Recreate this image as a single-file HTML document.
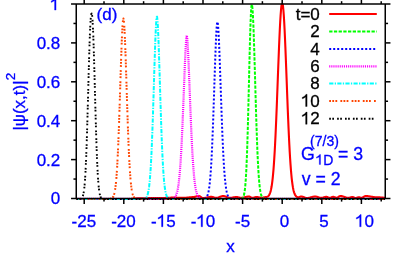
<!DOCTYPE html>
<html><head><meta charset="utf-8"><title>plot</title>
<style>html,body{margin:0;padding:0;background:#fff;overflow:hidden}svg{display:block}</style>
</head><body>
<svg width="399" height="256" viewBox="0 0 399 256" style="will-change:transform">
<rect width="399" height="256" fill="#fff"/>
<clipPath id="c"><rect x="76.25" y="3.50" width="309.00" height="196.95"/></clipPath><g clip-path="url(#c)">
<path d="M76.28 198.95 L76.68 198.95 L77.07 198.95 L77.47 198.95 L77.86 198.95 L78.26 198.95 L78.66 198.95 L79.05 198.95 L79.45 198.95 L79.84 198.95 L80.24 198.95 L80.64 198.95 L81.03 198.95 L81.43 198.95 L81.82 198.95 L82.22 198.95 L82.62 198.95 L83.01 198.95 L83.41 198.95 L83.80 198.95 L84.20 198.95 L84.60 198.95 L84.99 198.95 L85.39 198.95 L85.78 198.95 L86.18 198.95 L86.58 198.95 L86.97 198.95 L87.37 198.95 L87.76 198.95 L88.16 198.95 L88.56 198.95 L88.95 198.95 L89.35 198.95 L89.74 198.95 L90.14 198.95 L90.54 198.95 L90.93 198.95 L91.33 198.95 L91.72 198.95 L92.12 198.95 L92.52 198.95 L92.91 198.95 L93.31 198.95 L93.70 198.95 L94.10 198.95 L94.50 198.95 L94.89 198.95 L95.29 198.95 L95.68 198.95 L96.08 198.95 L96.48 198.95 L96.87 198.95 L97.27 198.95 L97.66 198.95 L98.06 198.95 L98.46 198.95 L98.85 198.95 L99.25 198.95 L99.64 198.95 L100.04 198.95 L100.44 198.95 L100.83 198.95 L101.23 198.95 L101.62 198.95 L102.02 198.95 L102.42 198.95 L102.81 198.95 L103.21 198.95 L103.60 198.95 L104.00 198.95 L104.40 198.95 L104.79 198.95 L105.19 198.95 L105.58 198.95 L105.98 198.95 L106.38 198.95 L106.77 198.95 L107.17 198.95 L107.56 198.95 L107.96 198.95 L108.36 198.95 L108.75 198.95 L109.15 198.95 L109.54 198.95 L109.94 198.95 L110.34 198.95 L110.73 198.95 L111.13 198.95 L111.52 198.95 L111.92 198.95 L112.32 198.95 L112.71 198.95 L113.11 198.95 L113.50 198.95 L113.90 198.95 L114.30 198.95 L114.69 198.95 L115.09 198.95 L115.48 198.95 L115.88 198.95 L116.28 198.95 L116.67 198.95 L117.07 198.95 L117.46 198.95 L117.86 198.95 L118.26 198.95 L118.65 198.95 L119.05 198.95 L119.44 198.95 L119.84 198.95 L120.24 198.95 L120.63 198.95 L121.03 198.95 L121.42 198.95 L121.82 198.95 L122.22 198.95 L122.61 198.95 L123.01 198.95 L123.40 198.95 L123.80 198.95 L124.20 198.95 L124.59 198.95 L124.99 198.95 L125.38 198.95 L125.78 198.95 L126.18 198.95 L126.57 198.95 L126.97 198.95 L127.36 198.95 L127.76 198.95 L128.16 198.95 L128.55 198.95 L128.95 198.95 L129.34 198.95 L129.74 198.95 L130.14 198.95 L130.53 198.94 L130.93 198.93 L131.32 198.91 L131.72 198.89 L132.12 198.86 L132.51 198.83 L132.91 198.79 L133.30 198.75 L133.70 198.71 L134.10 198.67 L134.49 198.62 L134.89 198.58 L135.28 198.54 L135.68 198.50 L136.08 198.46 L136.47 198.43 L136.87 198.40 L137.26 198.38 L137.66 198.36 L138.06 198.35 L138.45 198.35 L138.85 198.35 L139.24 198.35 L139.64 198.35 L140.04 198.34 L140.43 198.34 L140.83 198.33 L141.22 198.33 L141.62 198.32 L142.02 198.31 L142.41 198.31 L142.81 198.30 L143.20 198.29 L143.60 198.28 L144.00 198.27 L144.39 198.26 L144.79 198.25 L145.18 198.24 L145.58 198.23 L145.98 198.22 L146.37 198.21 L146.77 198.20 L147.16 198.19 L147.56 198.19 L147.96 198.18 L148.35 198.17 L148.75 198.17 L149.14 198.16 L149.54 198.16 L149.94 198.15 L150.33 198.15 L150.73 198.15 L151.12 198.15 L151.52 198.15 L151.92 198.15 L152.31 198.14 L152.71 198.14 L153.10 198.14 L153.50 198.13 L153.90 198.13 L154.29 198.12 L154.69 198.11 L155.08 198.10 L155.48 198.09 L155.88 198.08 L156.27 198.08 L156.67 198.07 L157.06 198.06 L157.46 198.05 L157.86 198.04 L158.25 198.03 L158.65 198.02 L159.04 198.01 L159.44 198.00 L159.84 197.99 L160.23 197.98 L160.63 197.98 L161.02 197.97 L161.42 197.96 L161.82 197.96 L162.21 197.96 L162.61 197.95 L163.00 197.95 L163.40 197.95 L163.80 197.95 L164.19 197.95 L164.59 197.94 L164.98 197.93 L165.38 197.92 L165.78 197.91 L166.17 197.89 L166.57 197.87 L166.96 197.86 L167.36 197.84 L167.76 197.82 L168.15 197.79 L168.55 197.77 L168.94 197.75 L169.34 197.73 L169.74 197.72 L170.13 197.70 L170.53 197.68 L170.92 197.67 L171.32 197.66 L171.72 197.66 L172.11 197.65 L172.51 197.65 L172.90 197.65 L173.30 197.65 L173.70 197.65 L174.09 197.65 L174.49 197.66 L174.88 197.66 L175.28 197.66 L175.68 197.67 L176.07 197.67 L176.47 197.67 L176.86 197.68 L177.26 197.68 L177.66 197.69 L178.05 197.69 L178.45 197.70 L178.84 197.70 L179.24 197.71 L179.64 197.71 L180.03 197.72 L180.43 197.72 L180.82 197.72 L181.22 197.73 L181.62 197.73 L182.01 197.74 L182.41 197.74 L182.80 197.74 L183.20 197.74 L183.60 197.75 L183.99 197.75 L184.39 197.75 L184.78 197.75 L185.18 197.75 L185.58 197.74 L185.97 197.73 L186.37 197.70 L186.76 197.67 L187.16 197.64 L187.56 197.60 L187.95 197.55 L188.35 197.51 L188.74 197.46 L189.14 197.41 L189.54 197.36 L189.93 197.31 L190.33 197.27 L190.72 197.24 L191.12 197.20 L191.52 197.18 L191.91 197.16 L192.31 197.15 L192.70 197.15 L193.10 197.13 L193.50 197.09 L193.89 197.04 L194.29 196.96 L194.68 196.87 L195.08 196.77 L195.48 196.66 L195.87 196.55 L196.27 196.44 L196.66 196.34 L197.06 196.25 L197.46 196.17 L197.85 196.11 L198.25 196.07 L198.64 196.05 L199.04 196.06 L199.44 196.15 L199.83 196.31 L200.23 196.53 L200.62 196.78 L201.02 197.06 L201.42 197.34 L201.81 197.60 L202.21 197.81 L202.60 197.96 L203.00 198.04 L203.40 198.05 L203.79 198.03 L204.19 198.01 L204.58 197.97 L204.98 197.91 L205.38 197.85 L205.77 197.78 L206.17 197.69 L206.56 197.61 L206.96 197.52 L207.36 197.43 L207.75 197.33 L208.15 197.25 L208.54 197.16 L208.94 197.08 L209.34 197.02 L209.73 196.96 L210.13 196.91 L210.52 196.88 L210.92 196.86 L211.32 196.85 L211.71 196.87 L212.11 196.91 L212.50 196.99 L212.90 197.08 L213.30 197.19 L213.69 197.32 L214.09 197.44 L214.48 197.56 L214.88 197.66 L215.28 197.75 L215.67 197.81 L216.07 197.84 L216.46 197.85 L216.86 197.82 L217.26 197.77 L217.65 197.68 L218.05 197.58 L218.44 197.45 L218.84 197.31 L219.24 197.16 L219.63 197.00 L220.03 196.84 L220.42 196.68 L220.82 196.53 L221.22 196.39 L221.61 196.28 L222.01 196.18 L222.40 196.11 L222.80 196.06 L223.20 196.05 L223.59 196.06 L223.99 196.11 L224.38 196.18 L224.78 196.28 L225.18 196.40 L225.57 196.54 L225.97 196.69 L226.36 196.85 L226.76 197.02 L227.16 197.18 L227.55 197.33 L227.95 197.47 L228.34 197.60 L228.74 197.70 L229.14 197.78 L229.53 197.83 L229.93 197.85 L230.32 197.84 L230.72 197.82 L231.12 197.79 L231.51 197.74 L231.91 197.68 L232.30 197.61 L232.70 197.54 L233.10 197.46 L233.49 197.38 L233.89 197.31 L234.28 197.24 L234.68 197.17 L235.08 197.12 L235.47 197.08 L235.87 197.06 L236.26 197.05 L236.66 197.06 L237.06 197.09 L237.45 197.15 L237.85 197.22 L238.24 197.30 L238.64 197.40 L239.04 197.50 L239.43 197.59 L239.83 197.68 L240.22 197.75 L240.62 197.80 L241.02 197.84 L241.41 197.85 L241.81 197.84 L242.20 197.81 L242.60 197.77 L243.00 197.71 L243.39 197.63 L243.79 197.54 L244.18 197.45 L244.58 197.34 L244.98 197.23 L245.37 197.13 L245.77 197.02 L246.16 196.92 L246.56 196.82 L246.96 196.74 L247.35 196.67 L247.75 196.61 L248.14 196.58 L248.54 196.55 L248.94 196.55 L249.33 196.62 L249.73 196.74 L250.12 196.92 L250.52 197.13 L250.92 197.35 L251.31 197.55 L251.71 197.71 L252.10 197.81 L252.50 197.85 L252.90 197.83 L253.29 197.77 L253.69 197.67 L254.08 197.55 L254.48 197.42 L254.88 197.30 L255.27 197.19 L255.67 197.10 L256.06 197.06 L256.46 197.05 L256.86 197.07 L257.25 197.10 L257.65 197.16 L258.04 197.22 L258.44 197.30 L258.84 197.38 L259.23 197.47 L259.63 197.55 L260.02 197.63 L260.42 197.71 L260.82 197.77 L261.21 197.81 L261.61 197.84 L262.00 197.84 L262.40 197.82 L262.80 197.74 L263.19 197.63 L263.59 197.49 L263.98 197.36 L264.38 197.25 L264.78 197.17 L265.17 197.13 L265.57 197.10 L265.96 197.05 L266.36 196.99 L266.76 196.91 L267.15 196.79 L267.55 196.62 L267.94 196.39 L268.34 196.07 L268.74 195.63 L269.13 195.07 L269.53 194.33 L269.92 193.41 L270.32 192.26 L270.72 190.85 L271.11 189.14 L271.51 187.06 L271.90 184.58 L272.30 181.64 L272.70 178.20 L273.09 174.19 L273.49 169.57 L273.88 164.31 L274.28 158.38 L274.68 151.76 L275.07 144.44 L275.47 136.45 L275.86 127.81 L276.26 118.59 L276.66 108.86 L277.05 98.73 L277.45 88.32 L277.84 77.78 L278.24 67.27 L278.64 56.97 L279.03 47.06 L279.43 37.74 L279.82 29.20 L280.22 21.62 L280.62 15.16 L281.01 9.97 L281.41 6.18 L281.80 3.87 L282.20 3.09 L282.60 3.87 L282.99 6.19 L283.39 9.99 L283.78 15.18 L284.18 21.64 L284.58 29.23 L284.97 37.77 L285.37 47.10 L285.76 57.01 L286.16 67.31 L286.56 77.83 L286.95 88.37 L287.35 98.79 L287.74 108.92 L288.14 118.65 L288.54 127.87 L288.93 136.51 L289.33 144.51 L289.72 151.83 L290.12 158.46 L290.52 164.39 L290.91 169.65 L291.31 174.27 L291.70 178.28 L292.10 181.73 L292.50 184.67 L292.89 187.16 L293.29 189.23 L293.68 190.95 L294.08 192.36 L294.48 193.51 L294.87 194.43 L295.27 195.17 L295.66 195.75 L296.06 196.21 L296.46 196.57 L296.85 196.84 L297.25 197.05 L297.64 197.21 L298.04 197.28 L298.44 197.26 L298.83 197.18 L299.23 197.06 L299.62 196.92 L300.02 196.77 L300.42 196.65 L300.81 196.57 L301.21 196.53 L301.60 196.55 L302.00 196.60 L302.40 196.68 L302.79 196.79 L303.19 196.93 L303.58 197.08 L303.98 197.25 L304.38 197.41 L304.77 197.58 L305.17 197.72 L305.56 197.85 L305.96 197.95 L306.36 198.02 L306.75 198.05 L307.15 198.05 L307.54 198.03 L307.94 197.99 L308.34 197.94 L308.73 197.87 L309.13 197.79 L309.52 197.70 L309.92 197.60 L310.32 197.49 L310.71 197.38 L311.11 197.27 L311.50 197.16 L311.90 197.05 L312.30 196.94 L312.69 196.85 L313.09 196.76 L313.48 196.69 L313.88 196.63 L314.28 196.59 L314.67 196.56 L315.07 196.55 L315.46 196.56 L315.86 196.60 L316.26 196.66 L316.65 196.74 L317.05 196.84 L317.44 196.96 L317.84 197.08 L318.24 197.21 L318.63 197.34 L319.03 197.46 L319.42 197.58 L319.82 197.68 L320.22 197.75 L320.61 197.81 L321.01 197.84 L321.40 197.85 L321.80 197.83 L322.20 197.78 L322.59 197.70 L322.99 197.60 L323.38 197.49 L323.78 197.37 L324.18 197.25 L324.57 197.13 L324.97 197.03 L325.36 196.95 L325.76 196.89 L326.16 196.86 L326.55 196.86 L326.95 196.93 L327.34 197.06 L327.74 197.24 L328.14 197.44 L328.53 197.63 L328.93 197.77 L329.32 197.84 L329.72 197.84 L330.12 197.78 L330.51 197.68 L330.91 197.53 L331.30 197.37 L331.70 197.20 L332.10 197.05 L332.49 196.94 L332.89 196.87 L333.28 196.85 L333.68 196.90 L334.08 197.00 L334.47 197.14 L334.87 197.31 L335.26 197.47 L335.66 197.61 L336.06 197.71 L336.45 197.75 L336.85 197.72 L337.24 197.62 L337.64 197.45 L338.04 197.23 L338.43 196.98 L338.83 196.72 L339.22 196.48 L339.62 196.28 L340.02 196.13 L340.41 196.06 L340.81 196.05 L341.20 196.08 L341.60 196.13 L342.00 196.20 L342.39 196.29 L342.79 196.39 L343.18 196.52 L343.58 196.65 L343.98 196.79 L344.37 196.94 L344.77 197.09 L345.16 197.23 L345.56 197.37 L345.96 197.49 L346.35 197.60 L346.75 197.69 L347.14 197.77 L347.54 197.82 L347.94 197.84 L348.33 197.85 L348.73 197.82 L349.12 197.76 L349.52 197.68 L349.92 197.57 L350.31 197.46 L350.71 197.35 L351.10 197.24 L351.50 197.15 L351.90 197.09 L352.29 197.05 L352.69 197.06 L353.08 197.13 L353.48 197.26 L353.88 197.44 L354.27 197.63 L354.67 197.81 L355.06 197.96 L355.46 198.04 L355.86 198.05 L356.25 197.99 L356.65 197.88 L357.04 197.73 L357.44 197.57 L357.84 197.43 L358.23 197.31 L358.63 197.26 L359.02 197.26 L359.42 197.34 L359.82 197.46 L360.21 197.61 L360.61 197.74 L361.00 197.83 L361.40 197.85 L361.80 197.79 L362.19 197.67 L362.59 197.50 L362.98 197.27 L363.38 197.03 L363.78 196.77 L364.17 196.53 L364.57 196.33 L364.96 196.17 L365.36 196.08 L365.76 196.05 L366.15 196.06 L366.55 196.07 L366.94 196.09 L367.34 196.12 L367.74 196.15 L368.13 196.20 L368.53 196.25 L368.92 196.30 L369.32 196.36 L369.72 196.42 L370.11 196.49 L370.51 196.55 L370.90 196.62 L371.30 196.69 L371.70 196.76 L372.09 196.83 L372.49 196.90 L372.88 196.96 L373.28 197.02 L373.68 197.07 L374.07 197.12 L374.47 197.16 L374.86 197.19 L375.26 197.22 L375.66 197.24 L376.05 197.25 L376.45 197.25 L376.84 197.25 L377.24 197.26 L377.64 197.27 L378.03 197.28 L378.43 197.30 L378.82 197.32 L379.22 197.35 L379.62 197.38 L380.01 197.41 L380.41 197.44 L380.80 197.47 L381.20 197.50 L381.60 197.53 L381.99 197.56 L382.39 197.59 L382.78 197.62 L383.18 197.65 L383.58 197.68 L383.97 197.70 L384.37 197.72 L384.76 197.73 L385.16 197.74" fill="none" stroke="#ff0000" stroke-width="2.1" stroke-linejoin="round"/>
<path d="M76.28 198.95 L76.68 198.95 L77.07 198.95 L77.47 198.95 L77.86 198.95 L78.26 198.95 L78.66 198.95 L79.05 198.95 L79.45 198.95 L79.84 198.95 L80.24 198.95 L80.64 198.95 L81.03 198.95 L81.43 198.95 L81.82 198.95 L82.22 198.95 L82.62 198.95 L83.01 198.95 L83.41 198.95 L83.80 198.95 L84.20 198.95 L84.60 198.95 L84.99 198.95 L85.39 198.95 L85.78 198.95 L86.18 198.95 L86.58 198.95 L86.97 198.95 L87.37 198.95 L87.76 198.95 L88.16 198.95 L88.56 198.95 L88.95 198.95 L89.35 198.95 L89.74 198.95 L90.14 198.95 L90.54 198.95 L90.93 198.95 L91.33 198.95 L91.72 198.95 L92.12 198.95 L92.52 198.95 L92.91 198.95 L93.31 198.95 L93.70 198.95 L94.10 198.95 L94.50 198.95 L94.89 198.95 L95.29 198.95 L95.68 198.95 L96.08 198.95 L96.48 198.95 L96.87 198.95 L97.27 198.95 L97.66 198.95 L98.06 198.95 L98.46 198.95 L98.85 198.95 L99.25 198.95 L99.64 198.95 L100.04 198.95 L100.44 198.95 L100.83 198.95 L101.23 198.95 L101.62 198.95 L102.02 198.95 L102.42 198.95 L102.81 198.95 L103.21 198.95 L103.60 198.95 L104.00 198.95 L104.40 198.95 L104.79 198.95 L105.19 198.95 L105.58 198.95 L105.98 198.95 L106.38 198.95 L106.77 198.95 L107.17 198.95 L107.56 198.95 L107.96 198.95 L108.36 198.95 L108.75 198.95 L109.15 198.95 L109.54 198.95 L109.94 198.95 L110.34 198.95 L110.73 198.95 L111.13 198.95 L111.52 198.95 L111.92 198.95 L112.32 198.95 L112.71 198.95 L113.11 198.95 L113.50 198.95 L113.90 198.95 L114.30 198.95 L114.69 198.95 L115.09 198.95 L115.48 198.95 L115.88 198.95 L116.28 198.95 L116.67 198.95 L117.07 198.95 L117.46 198.95 L117.86 198.95 L118.26 198.95 L118.65 198.95 L119.05 198.95 L119.44 198.95 L119.84 198.95 L120.24 198.95 L120.63 198.95 L121.03 198.95 L121.42 198.95 L121.82 198.95 L122.22 198.95 L122.61 198.95 L123.01 198.95 L123.40 198.95 L123.80 198.95 L124.20 198.95 L124.59 198.95 L124.99 198.95 L125.38 198.95 L125.78 198.95 L126.18 198.95 L126.57 198.95 L126.97 198.95 L127.36 198.95 L127.76 198.95 L128.16 198.95 L128.55 198.95 L128.95 198.95 L129.34 198.95 L129.74 198.95 L130.14 198.95 L130.53 198.95 L130.93 198.95 L131.32 198.95 L131.72 198.95 L132.12 198.95 L132.51 198.95 L132.91 198.95 L133.30 198.95 L133.70 198.95 L134.10 198.95 L134.49 198.95 L134.89 198.95 L135.28 198.95 L135.68 198.95 L136.08 198.95 L136.47 198.95 L136.87 198.95 L137.26 198.95 L137.66 198.95 L138.06 198.95 L138.45 198.95 L138.85 198.95 L139.24 198.95 L139.64 198.95 L140.04 198.95 L140.43 198.95 L140.83 198.95 L141.22 198.95 L141.62 198.95 L142.02 198.95 L142.41 198.95 L142.81 198.95 L143.20 198.95 L143.60 198.95 L144.00 198.95 L144.39 198.95 L144.79 198.95 L145.18 198.95 L145.58 198.95 L145.98 198.95 L146.37 198.95 L146.77 198.95 L147.16 198.95 L147.56 198.95 L147.96 198.95 L148.35 198.95 L148.75 198.95 L149.14 198.95 L149.54 198.95 L149.94 198.95 L150.33 198.95 L150.73 198.95 L151.12 198.95 L151.52 198.95 L151.92 198.95 L152.31 198.95 L152.71 198.95 L153.10 198.95 L153.50 198.95 L153.90 198.95 L154.29 198.95 L154.69 198.95 L155.08 198.95 L155.48 198.95 L155.88 198.95 L156.27 198.95 L156.67 198.95 L157.06 198.95 L157.46 198.95 L157.86 198.95 L158.25 198.95 L158.65 198.95 L159.04 198.95 L159.44 198.95 L159.84 198.95 L160.23 198.95 L160.63 198.95 L161.02 198.95 L161.42 198.95 L161.82 198.95 L162.21 198.95 L162.61 198.95 L163.00 198.95 L163.40 198.95 L163.80 198.95 L164.19 198.95 L164.59 198.95 L164.98 198.95 L165.38 198.95 L165.78 198.95 L166.17 198.95 L166.57 198.95 L166.96 198.95 L167.36 198.95 L167.76 198.95 L168.15 198.95 L168.55 198.95 L168.94 198.95 L169.34 198.95 L169.74 198.95 L170.13 198.95 L170.53 198.95 L170.92 198.95 L171.32 198.95 L171.72 198.95 L172.11 198.95 L172.51 198.95 L172.90 198.95 L173.30 198.95 L173.70 198.95 L174.09 198.95 L174.49 198.95 L174.88 198.95 L175.28 198.95 L175.68 198.95 L176.07 198.95 L176.47 198.95 L176.86 198.95 L177.26 198.95 L177.66 198.95 L178.05 198.95 L178.45 198.95 L178.84 198.95 L179.24 198.95 L179.64 198.95 L180.03 198.95 L180.43 198.95 L180.82 198.95 L181.22 198.95 L181.62 198.95 L182.01 198.95 L182.41 198.95 L182.80 198.95 L183.20 198.95 L183.60 198.95 L183.99 198.95 L184.39 198.95 L184.78 198.95 L185.18 198.95 L185.58 198.95 L185.97 198.95 L186.37 198.95 L186.76 198.95 L187.16 198.95 L187.56 198.95 L187.95 198.95 L188.35 198.95 L188.74 198.95 L189.14 198.95 L189.54 198.95 L189.93 198.95 L190.33 198.95 L190.72 198.95 L191.12 198.95 L191.52 198.95 L191.91 198.95 L192.31 198.95 L192.70 198.95 L193.10 198.95 L193.50 198.95 L193.89 198.95 L194.29 198.95 L194.68 198.95 L195.08 198.95 L195.48 198.95 L195.87 198.95 L196.27 198.95 L196.66 198.95 L197.06 198.95 L197.46 198.95 L197.85 198.95 L198.25 198.95 L198.64 198.95 L199.04 198.95 L199.44 198.95 L199.83 198.95 L200.23 198.95 L200.62 198.95 L201.02 198.95 L201.42 198.95 L201.81 198.95 L202.21 198.95 L202.60 198.95 L203.00 198.95 L203.40 198.95 L203.79 198.95 L204.19 198.95 L204.58 198.95 L204.98 198.95 L205.38 198.95 L205.77 198.95 L206.17 198.95 L206.56 198.95 L206.96 198.95 L207.36 198.95 L207.75 198.95 L208.15 198.95 L208.54 198.95 L208.94 198.95 L209.34 198.95 L209.73 198.95 L210.13 198.95 L210.52 198.95 L210.92 198.95 L211.32 198.95 L211.71 198.95 L212.11 198.95 L212.50 198.95 L212.90 198.95 L213.30 198.95 L213.69 198.95 L214.09 198.95 L214.48 198.95 L214.88 198.95 L215.28 198.95 L215.67 198.95 L216.07 198.95 L216.46 198.95 L216.86 198.95 L217.26 198.95 L217.65 198.95 L218.05 198.95 L218.44 198.95 L218.84 198.95 L219.24 198.95 L219.63 198.95 L220.03 198.95 L220.42 198.95 L220.82 198.95 L221.22 198.95 L221.61 198.95 L222.01 198.95 L222.40 198.95 L222.80 198.95 L223.20 198.95 L223.59 198.95 L223.99 198.95 L224.38 198.95 L224.78 198.95 L225.18 198.95 L225.57 198.95 L225.97 198.95 L226.36 198.95 L226.76 198.95 L227.16 198.95 L227.55 198.95 L227.95 198.95 L228.34 198.95 L228.74 198.95 L229.14 198.95 L229.53 198.95 L229.93 198.95 L230.32 198.95 L230.72 198.95 L231.12 198.95 L231.51 198.95 L231.91 198.95 L232.30 198.95 L232.70 198.95 L233.10 198.95 L233.49 198.95 L233.89 198.95 L234.28 198.95 L234.68 198.95 L235.08 198.95 L235.47 198.95 L235.87 198.95 L236.26 198.95 L236.66 198.95 L237.06 198.95 L237.45 198.95 L237.85 198.95 L238.24 198.95 L238.64 198.95 L239.04 198.94 L239.43 198.94 L239.83 198.93 L240.22 198.91 L240.62 198.88 L241.02 198.83 L241.41 198.75 L241.81 198.61 L242.20 198.39 L242.60 198.06 L243.00 197.54 L243.39 196.78 L243.79 195.66 L244.18 194.08 L244.58 191.86 L244.98 188.86 L245.37 184.85 L245.77 179.65 L246.16 173.06 L246.56 164.89 L246.96 155.04 L247.35 143.47 L247.75 130.23 L248.14 115.52 L248.54 99.66 L248.94 83.13 L249.33 66.52 L249.73 50.53 L250.12 35.90 L250.52 23.38 L250.92 13.64 L251.31 7.23 L251.71 4.53 L252.10 5.31 L252.50 8.78 L252.90 14.76 L253.29 23.01 L253.69 33.21 L254.08 44.97 L254.48 57.87 L254.88 71.47 L255.27 85.35 L255.67 99.12 L256.06 112.43 L256.46 124.99 L256.86 136.61 L257.25 147.12 L257.65 156.46 L258.04 164.59 L258.44 171.55 L258.84 177.40 L259.23 182.24 L259.63 186.17 L260.02 189.31 L260.42 191.78 L260.82 193.69 L261.21 195.14 L261.61 196.23 L262.00 197.04 L262.40 197.62 L262.80 198.04 L263.19 198.34 L263.59 198.54 L263.98 198.68 L264.38 198.78 L264.78 198.84 L265.17 198.88 L265.57 198.91 L265.96 198.92 L266.36 198.93 L266.76 198.94 L267.15 198.94 L267.55 198.95 L267.94 198.95 L268.34 198.95 L268.74 198.95 L269.13 198.95 L269.53 198.95 L269.92 198.95 L270.32 198.95 L270.72 198.95 L271.11 198.95 L271.51 198.95 L271.90 198.95 L272.30 198.95 L272.70 198.95 L273.09 198.95 L273.49 198.95 L273.88 198.95 L274.28 198.95 L274.68 198.95 L275.07 198.95 L275.47 198.95 L275.86 198.95 L276.26 198.95 L276.66 198.95 L277.05 198.95 L277.45 198.95 L277.84 198.95 L278.24 198.95 L278.64 198.95 L279.03 198.95 L279.43 198.95 L279.82 198.95 L280.22 198.95 L280.62 198.95 L281.01 198.95 L281.41 198.95 L281.80 198.95 L282.20 198.95 L282.60 198.95 L282.99 198.95 L283.39 198.95 L283.78 198.95 L284.18 198.95 L284.58 198.95 L284.97 198.95 L285.37 198.95 L285.76 198.95 L286.16 198.95 L286.56 198.95 L286.95 198.95 L287.35 198.95 L287.74 198.95 L288.14 198.95 L288.54 198.95 L288.93 198.95 L289.33 198.95 L289.72 198.95 L290.12 198.95 L290.52 198.95 L290.91 198.95 L291.31 198.95 L291.70 198.95 L292.10 198.95 L292.50 198.95 L292.89 198.95 L293.29 198.95 L293.68 198.95 L294.08 198.95 L294.48 198.95 L294.87 198.95 L295.27 198.95 L295.66 198.95 L296.06 198.95 L296.46 198.95 L296.85 198.95 L297.25 198.95 L297.64 198.95 L298.04 198.95 L298.44 198.95 L298.83 198.95 L299.23 198.95 L299.62 198.95 L300.02 198.95 L300.42 198.95 L300.81 198.95 L301.21 198.95 L301.60 198.95 L302.00 198.95 L302.40 198.95 L302.79 198.95 L303.19 198.95 L303.58 198.95 L303.98 198.95 L304.38 198.95 L304.77 198.95 L305.17 198.95 L305.56 198.95 L305.96 198.95 L306.36 198.95 L306.75 198.95 L307.15 198.95 L307.54 198.95 L307.94 198.95 L308.34 198.95 L308.73 198.95 L309.13 198.95 L309.52 198.95 L309.92 198.95 L310.32 198.95 L310.71 198.95 L311.11 198.95 L311.50 198.95 L311.90 198.95 L312.30 198.95 L312.69 198.95 L313.09 198.95 L313.48 198.95 L313.88 198.95 L314.28 198.95 L314.67 198.95 L315.07 198.95 L315.46 198.95 L315.86 198.95 L316.26 198.95 L316.65 198.95 L317.05 198.95 L317.44 198.95 L317.84 198.95 L318.24 198.95 L318.63 198.95 L319.03 198.95 L319.42 198.95 L319.82 198.95 L320.22 198.95 L320.61 198.95 L321.01 198.95 L321.40 198.95 L321.80 198.95 L322.20 198.95 L322.59 198.95 L322.99 198.95 L323.38 198.95 L323.78 198.95 L324.18 198.95 L324.57 198.95 L324.97 198.95 L325.36 198.95 L325.76 198.95 L326.16 198.95 L326.55 198.95 L326.95 198.95 L327.34 198.95 L327.74 198.95 L328.14 198.95 L328.53 198.95 L328.93 198.95 L329.32 198.95 L329.72 198.95 L330.12 198.95 L330.51 198.95 L330.91 198.95 L331.30 198.95 L331.70 198.95 L332.10 198.95 L332.49 198.95 L332.89 198.95 L333.28 198.95 L333.68 198.95 L334.08 198.95 L334.47 198.95 L334.87 198.95 L335.26 198.95 L335.66 198.95 L336.06 198.95 L336.45 198.95 L336.85 198.95 L337.24 198.95 L337.64 198.95 L338.04 198.95 L338.43 198.95 L338.83 198.95 L339.22 198.95 L339.62 198.95 L340.02 198.95 L340.41 198.95 L340.81 198.95 L341.20 198.95 L341.60 198.95 L342.00 198.95 L342.39 198.95 L342.79 198.95 L343.18 198.95 L343.58 198.95 L343.98 198.95 L344.37 198.95 L344.77 198.95 L345.16 198.95 L345.56 198.95 L345.96 198.95 L346.35 198.95 L346.75 198.95 L347.14 198.95 L347.54 198.95 L347.94 198.95 L348.33 198.95 L348.73 198.95 L349.12 198.95 L349.52 198.95 L349.92 198.95 L350.31 198.95 L350.71 198.95 L351.10 198.95 L351.50 198.95 L351.90 198.95 L352.29 198.95 L352.69 198.95 L353.08 198.95 L353.48 198.95 L353.88 198.95 L354.27 198.95 L354.67 198.95 L355.06 198.95 L355.46 198.95 L355.86 198.95 L356.25 198.95 L356.65 198.95 L357.04 198.95 L357.44 198.95 L357.84 198.95 L358.23 198.95 L358.63 198.95 L359.02 198.95 L359.42 198.95 L359.82 198.95 L360.21 198.95 L360.61 198.95 L361.00 198.95 L361.40 198.95 L361.80 198.95 L362.19 198.95 L362.59 198.95 L362.98 198.95 L363.38 198.95 L363.78 198.95 L364.17 198.95 L364.57 198.95 L364.96 198.95 L365.36 198.95 L365.76 198.95 L366.15 198.95 L366.55 198.95 L366.94 198.95 L367.34 198.95 L367.74 198.95 L368.13 198.95 L368.53 198.95 L368.92 198.95 L369.32 198.95 L369.72 198.95 L370.11 198.95 L370.51 198.95 L370.90 198.95 L371.30 198.95 L371.70 198.95 L372.09 198.95 L372.49 198.95 L372.88 198.95 L373.28 198.95 L373.68 198.95 L374.07 198.95 L374.47 198.95 L374.86 198.95 L375.26 198.95 L375.66 198.95 L376.05 198.95 L376.45 198.95 L376.84 198.95 L377.24 198.95 L377.64 198.95 L378.03 198.95 L378.43 198.95 L378.82 198.95 L379.22 198.95 L379.62 198.95 L380.01 198.95 L380.41 198.95 L380.80 198.95 L381.20 198.95 L381.60 198.95 L381.99 198.95 L382.39 198.95 L382.78 198.95 L383.18 198.95 L383.58 198.95 L383.97 198.95 L384.37 198.95 L384.76 198.95 L385.16 198.95" fill="none" stroke="#00ff00" stroke-width="2.0" stroke-dasharray="3.3 1.4" stroke-linejoin="round"/>
<path d="M76.28 198.95 L76.68 198.95 L77.07 198.95 L77.47 198.95 L77.86 198.95 L78.26 198.95 L78.66 198.95 L79.05 198.95 L79.45 198.95 L79.84 198.95 L80.24 198.95 L80.64 198.95 L81.03 198.95 L81.43 198.95 L81.82 198.95 L82.22 198.95 L82.62 198.95 L83.01 198.95 L83.41 198.95 L83.80 198.95 L84.20 198.95 L84.60 198.95 L84.99 198.95 L85.39 198.95 L85.78 198.95 L86.18 198.95 L86.58 198.95 L86.97 198.95 L87.37 198.95 L87.76 198.95 L88.16 198.95 L88.56 198.95 L88.95 198.95 L89.35 198.95 L89.74 198.95 L90.14 198.95 L90.54 198.95 L90.93 198.95 L91.33 198.95 L91.72 198.95 L92.12 198.95 L92.52 198.95 L92.91 198.95 L93.31 198.95 L93.70 198.95 L94.10 198.95 L94.50 198.95 L94.89 198.95 L95.29 198.95 L95.68 198.95 L96.08 198.95 L96.48 198.95 L96.87 198.95 L97.27 198.95 L97.66 198.95 L98.06 198.95 L98.46 198.95 L98.85 198.95 L99.25 198.95 L99.64 198.95 L100.04 198.95 L100.44 198.95 L100.83 198.95 L101.23 198.95 L101.62 198.95 L102.02 198.95 L102.42 198.95 L102.81 198.95 L103.21 198.95 L103.60 198.95 L104.00 198.95 L104.40 198.95 L104.79 198.95 L105.19 198.95 L105.58 198.95 L105.98 198.95 L106.38 198.95 L106.77 198.95 L107.17 198.95 L107.56 198.95 L107.96 198.95 L108.36 198.95 L108.75 198.95 L109.15 198.95 L109.54 198.95 L109.94 198.95 L110.34 198.95 L110.73 198.95 L111.13 198.95 L111.52 198.95 L111.92 198.95 L112.32 198.95 L112.71 198.95 L113.11 198.95 L113.50 198.95 L113.90 198.95 L114.30 198.95 L114.69 198.95 L115.09 198.95 L115.48 198.95 L115.88 198.95 L116.28 198.95 L116.67 198.95 L117.07 198.95 L117.46 198.95 L117.86 198.95 L118.26 198.95 L118.65 198.95 L119.05 198.95 L119.44 198.95 L119.84 198.95 L120.24 198.95 L120.63 198.95 L121.03 198.95 L121.42 198.95 L121.82 198.95 L122.22 198.95 L122.61 198.95 L123.01 198.95 L123.40 198.95 L123.80 198.95 L124.20 198.95 L124.59 198.95 L124.99 198.95 L125.38 198.95 L125.78 198.95 L126.18 198.95 L126.57 198.95 L126.97 198.95 L127.36 198.95 L127.76 198.95 L128.16 198.95 L128.55 198.95 L128.95 198.95 L129.34 198.95 L129.74 198.95 L130.14 198.95 L130.53 198.95 L130.93 198.95 L131.32 198.95 L131.72 198.95 L132.12 198.95 L132.51 198.95 L132.91 198.95 L133.30 198.95 L133.70 198.95 L134.10 198.95 L134.49 198.95 L134.89 198.95 L135.28 198.95 L135.68 198.95 L136.08 198.95 L136.47 198.95 L136.87 198.95 L137.26 198.95 L137.66 198.95 L138.06 198.95 L138.45 198.95 L138.85 198.95 L139.24 198.95 L139.64 198.95 L140.04 198.95 L140.43 198.95 L140.83 198.95 L141.22 198.95 L141.62 198.95 L142.02 198.95 L142.41 198.95 L142.81 198.95 L143.20 198.95 L143.60 198.95 L144.00 198.95 L144.39 198.95 L144.79 198.95 L145.18 198.95 L145.58 198.95 L145.98 198.95 L146.37 198.95 L146.77 198.95 L147.16 198.95 L147.56 198.95 L147.96 198.95 L148.35 198.95 L148.75 198.95 L149.14 198.95 L149.54 198.95 L149.94 198.95 L150.33 198.95 L150.73 198.95 L151.12 198.95 L151.52 198.95 L151.92 198.95 L152.31 198.95 L152.71 198.95 L153.10 198.95 L153.50 198.95 L153.90 198.95 L154.29 198.95 L154.69 198.95 L155.08 198.95 L155.48 198.95 L155.88 198.95 L156.27 198.95 L156.67 198.95 L157.06 198.95 L157.46 198.95 L157.86 198.95 L158.25 198.95 L158.65 198.95 L159.04 198.95 L159.44 198.95 L159.84 198.95 L160.23 198.95 L160.63 198.95 L161.02 198.95 L161.42 198.95 L161.82 198.95 L162.21 198.95 L162.61 198.95 L163.00 198.95 L163.40 198.95 L163.80 198.95 L164.19 198.95 L164.59 198.95 L164.98 198.95 L165.38 198.95 L165.78 198.95 L166.17 198.95 L166.57 198.95 L166.96 198.95 L167.36 198.95 L167.76 198.95 L168.15 198.95 L168.55 198.95 L168.94 198.95 L169.34 198.95 L169.74 198.95 L170.13 198.95 L170.53 198.95 L170.92 198.95 L171.32 198.95 L171.72 198.95 L172.11 198.95 L172.51 198.95 L172.90 198.95 L173.30 198.95 L173.70 198.95 L174.09 198.95 L174.49 198.95 L174.88 198.95 L175.28 198.95 L175.68 198.95 L176.07 198.95 L176.47 198.95 L176.86 198.95 L177.26 198.95 L177.66 198.95 L178.05 198.95 L178.45 198.95 L178.84 198.95 L179.24 198.95 L179.64 198.95 L180.03 198.95 L180.43 198.95 L180.82 198.95 L181.22 198.95 L181.62 198.95 L182.01 198.95 L182.41 198.95 L182.80 198.95 L183.20 198.95 L183.60 198.95 L183.99 198.95 L184.39 198.95 L184.78 198.95 L185.18 198.95 L185.58 198.95 L185.97 198.95 L186.37 198.95 L186.76 198.95 L187.16 198.95 L187.56 198.95 L187.95 198.95 L188.35 198.95 L188.74 198.95 L189.14 198.95 L189.54 198.95 L189.93 198.95 L190.33 198.95 L190.72 198.95 L191.12 198.95 L191.52 198.95 L191.91 198.95 L192.31 198.95 L192.70 198.95 L193.10 198.95 L193.50 198.95 L193.89 198.95 L194.29 198.95 L194.68 198.95 L195.08 198.95 L195.48 198.95 L195.87 198.95 L196.27 198.95 L196.66 198.95 L197.06 198.95 L197.46 198.95 L197.85 198.95 L198.25 198.95 L198.64 198.95 L199.04 198.95 L199.44 198.95 L199.83 198.95 L200.23 198.95 L200.62 198.94 L201.02 198.94 L201.42 198.94 L201.81 198.93 L202.21 198.92 L202.60 198.90 L203.00 198.88 L203.40 198.84 L203.79 198.79 L204.19 198.72 L204.58 198.62 L204.98 198.48 L205.38 198.28 L205.77 198.02 L206.17 197.66 L206.56 197.18 L206.96 196.54 L207.36 195.71 L207.75 194.64 L208.15 193.26 L208.54 191.52 L208.94 189.34 L209.34 186.65 L209.73 183.36 L210.13 179.40 L210.52 174.67 L210.92 169.10 L211.32 162.65 L211.71 155.26 L212.11 146.92 L212.50 137.65 L212.90 127.51 L213.30 116.61 L213.69 105.09 L214.09 93.17 L214.48 81.10 L214.88 69.18 L215.28 57.77 L215.67 47.23 L216.07 37.96 L216.46 30.37 L216.86 24.87 L217.26 21.89 L217.65 22.21 L218.05 25.49 L218.44 31.04 L218.84 38.49 L219.24 47.46 L219.63 57.60 L220.03 68.55 L220.42 79.99 L220.82 91.59 L221.22 103.09 L221.61 114.26 L222.01 124.89 L222.40 134.85 L222.80 144.02 L223.20 152.35 L223.59 159.81 L223.99 166.39 L224.38 172.12 L224.78 177.06 L225.18 181.25 L225.57 184.78 L225.97 187.71 L226.36 190.12 L226.76 192.07 L227.16 193.64 L227.55 194.89 L227.95 195.88 L228.34 196.64 L228.74 197.23 L229.14 197.68 L229.53 198.02 L229.93 198.28 L230.32 198.47 L230.72 198.61 L231.12 198.71 L231.51 198.78 L231.91 198.83 L232.30 198.87 L232.70 198.89 L233.10 198.91 L233.49 198.92 L233.89 198.93 L234.28 198.94 L234.68 198.94 L235.08 198.95 L235.47 198.95 L235.87 198.95 L236.26 198.95 L236.66 198.95 L237.06 198.95 L237.45 198.95 L237.85 198.95 L238.24 198.95 L238.64 198.95 L239.04 198.95 L239.43 198.95 L239.83 198.95 L240.22 198.95 L240.62 198.95 L241.02 198.95 L241.41 198.95 L241.81 198.95 L242.20 198.95 L242.60 198.95 L243.00 198.95 L243.39 198.95 L243.79 198.95 L244.18 198.95 L244.58 198.95 L244.98 198.95 L245.37 198.95 L245.77 198.95 L246.16 198.95 L246.56 198.95 L246.96 198.95 L247.35 198.95 L247.75 198.95 L248.14 198.95 L248.54 198.95 L248.94 198.95 L249.33 198.95 L249.73 198.95 L250.12 198.95 L250.52 198.95 L250.92 198.95 L251.31 198.95 L251.71 198.95 L252.10 198.95 L252.50 198.95 L252.90 198.95 L253.29 198.95 L253.69 198.95 L254.08 198.95 L254.48 198.95 L254.88 198.95 L255.27 198.95 L255.67 198.95 L256.06 198.95 L256.46 198.95 L256.86 198.95 L257.25 198.95 L257.65 198.95 L258.04 198.95 L258.44 198.95 L258.84 198.95 L259.23 198.95 L259.63 198.95 L260.02 198.95 L260.42 198.95 L260.82 198.95 L261.21 198.95 L261.61 198.95 L262.00 198.95 L262.40 198.95 L262.80 198.95 L263.19 198.95 L263.59 198.95 L263.98 198.95 L264.38 198.95 L264.78 198.95 L265.17 198.95 L265.57 198.95 L265.96 198.95 L266.36 198.95 L266.76 198.95 L267.15 198.95 L267.55 198.95 L267.94 198.95 L268.34 198.95 L268.74 198.95 L269.13 198.95 L269.53 198.95 L269.92 198.95 L270.32 198.95 L270.72 198.95 L271.11 198.95 L271.51 198.95 L271.90 198.95 L272.30 198.95 L272.70 198.95 L273.09 198.95 L273.49 198.95 L273.88 198.95 L274.28 198.95 L274.68 198.95 L275.07 198.95 L275.47 198.95 L275.86 198.95 L276.26 198.95 L276.66 198.95 L277.05 198.95 L277.45 198.95 L277.84 198.95 L278.24 198.95 L278.64 198.95 L279.03 198.95 L279.43 198.95 L279.82 198.95 L280.22 198.95 L280.62 198.95 L281.01 198.95 L281.41 198.95 L281.80 198.95 L282.20 198.95 L282.60 198.95 L282.99 198.95 L283.39 198.95 L283.78 198.95 L284.18 198.95 L284.58 198.95 L284.97 198.95 L285.37 198.95 L285.76 198.95 L286.16 198.95 L286.56 198.95 L286.95 198.95 L287.35 198.95 L287.74 198.95 L288.14 198.95 L288.54 198.95 L288.93 198.95 L289.33 198.95 L289.72 198.95 L290.12 198.95 L290.52 198.95 L290.91 198.95 L291.31 198.95 L291.70 198.95 L292.10 198.95 L292.50 198.95 L292.89 198.95 L293.29 198.95 L293.68 198.95 L294.08 198.95 L294.48 198.95 L294.87 198.95 L295.27 198.95 L295.66 198.95 L296.06 198.95 L296.46 198.95 L296.85 198.95 L297.25 198.95 L297.64 198.95 L298.04 198.95 L298.44 198.95 L298.83 198.95 L299.23 198.95 L299.62 198.95 L300.02 198.95 L300.42 198.95 L300.81 198.95 L301.21 198.95 L301.60 198.95 L302.00 198.95 L302.40 198.95 L302.79 198.95 L303.19 198.95 L303.58 198.95 L303.98 198.95 L304.38 198.95 L304.77 198.95 L305.17 198.95 L305.56 198.95 L305.96 198.95 L306.36 198.95 L306.75 198.95 L307.15 198.95 L307.54 198.95 L307.94 198.95 L308.34 198.95 L308.73 198.95 L309.13 198.95 L309.52 198.95 L309.92 198.95 L310.32 198.95 L310.71 198.95 L311.11 198.95 L311.50 198.95 L311.90 198.95 L312.30 198.95 L312.69 198.95 L313.09 198.95 L313.48 198.95 L313.88 198.95 L314.28 198.95 L314.67 198.95 L315.07 198.95 L315.46 198.95 L315.86 198.95 L316.26 198.95 L316.65 198.95 L317.05 198.95 L317.44 198.95 L317.84 198.95 L318.24 198.95 L318.63 198.95 L319.03 198.95 L319.42 198.95 L319.82 198.95 L320.22 198.95 L320.61 198.95 L321.01 198.95 L321.40 198.95 L321.80 198.95 L322.20 198.95 L322.59 198.95 L322.99 198.95 L323.38 198.95 L323.78 198.95 L324.18 198.95 L324.57 198.95 L324.97 198.95 L325.36 198.95 L325.76 198.95 L326.16 198.95 L326.55 198.95 L326.95 198.95 L327.34 198.95 L327.74 198.95 L328.14 198.95 L328.53 198.95 L328.93 198.95 L329.32 198.95 L329.72 198.95 L330.12 198.95 L330.51 198.95 L330.91 198.95 L331.30 198.95 L331.70 198.95 L332.10 198.95 L332.49 198.95 L332.89 198.95 L333.28 198.95 L333.68 198.95 L334.08 198.95 L334.47 198.95 L334.87 198.95 L335.26 198.95 L335.66 198.95 L336.06 198.95 L336.45 198.95 L336.85 198.95 L337.24 198.95 L337.64 198.95 L338.04 198.95 L338.43 198.95 L338.83 198.95 L339.22 198.95 L339.62 198.95 L340.02 198.95 L340.41 198.95 L340.81 198.95 L341.20 198.95 L341.60 198.95 L342.00 198.95 L342.39 198.95 L342.79 198.95 L343.18 198.95 L343.58 198.95 L343.98 198.95 L344.37 198.95 L344.77 198.95 L345.16 198.95 L345.56 198.95 L345.96 198.95 L346.35 198.95 L346.75 198.95 L347.14 198.95 L347.54 198.95 L347.94 198.95 L348.33 198.95 L348.73 198.95 L349.12 198.95 L349.52 198.95 L349.92 198.95 L350.31 198.95 L350.71 198.95 L351.10 198.95 L351.50 198.95 L351.90 198.95 L352.29 198.95 L352.69 198.95 L353.08 198.95 L353.48 198.95 L353.88 198.95 L354.27 198.95 L354.67 198.95 L355.06 198.95 L355.46 198.95 L355.86 198.95 L356.25 198.95 L356.65 198.95 L357.04 198.95 L357.44 198.95 L357.84 198.95 L358.23 198.95 L358.63 198.95 L359.02 198.95 L359.42 198.95 L359.82 198.95 L360.21 198.95 L360.61 198.95 L361.00 198.95 L361.40 198.95 L361.80 198.95 L362.19 198.95 L362.59 198.95 L362.98 198.95 L363.38 198.95 L363.78 198.95 L364.17 198.95 L364.57 198.95 L364.96 198.95 L365.36 198.95 L365.76 198.95 L366.15 198.95 L366.55 198.95 L366.94 198.95 L367.34 198.95 L367.74 198.95 L368.13 198.95 L368.53 198.95 L368.92 198.95 L369.32 198.95 L369.72 198.95 L370.11 198.95 L370.51 198.95 L370.90 198.95 L371.30 198.95 L371.70 198.95 L372.09 198.95 L372.49 198.95 L372.88 198.95 L373.28 198.95 L373.68 198.95 L374.07 198.95 L374.47 198.95 L374.86 198.95 L375.26 198.95 L375.66 198.95 L376.05 198.95 L376.45 198.95 L376.84 198.95 L377.24 198.95 L377.64 198.95 L378.03 198.95 L378.43 198.95 L378.82 198.95 L379.22 198.95 L379.62 198.95 L380.01 198.95 L380.41 198.95 L380.80 198.95 L381.20 198.95 L381.60 198.95 L381.99 198.95 L382.39 198.95 L382.78 198.95 L383.18 198.95 L383.58 198.95 L383.97 198.95 L384.37 198.95 L384.76 198.95 L385.16 198.95" fill="none" stroke="#0000ff" stroke-width="2.0" stroke-dasharray="2 2" stroke-linejoin="round"/>
<path d="M76.28 198.95 L76.68 198.95 L77.07 198.95 L77.47 198.95 L77.86 198.95 L78.26 198.95 L78.66 198.95 L79.05 198.95 L79.45 198.95 L79.84 198.95 L80.24 198.95 L80.64 198.95 L81.03 198.95 L81.43 198.95 L81.82 198.95 L82.22 198.95 L82.62 198.95 L83.01 198.95 L83.41 198.95 L83.80 198.95 L84.20 198.95 L84.60 198.95 L84.99 198.95 L85.39 198.95 L85.78 198.95 L86.18 198.95 L86.58 198.95 L86.97 198.95 L87.37 198.95 L87.76 198.95 L88.16 198.95 L88.56 198.95 L88.95 198.95 L89.35 198.95 L89.74 198.95 L90.14 198.95 L90.54 198.95 L90.93 198.95 L91.33 198.95 L91.72 198.95 L92.12 198.95 L92.52 198.95 L92.91 198.95 L93.31 198.95 L93.70 198.95 L94.10 198.95 L94.50 198.95 L94.89 198.95 L95.29 198.95 L95.68 198.95 L96.08 198.95 L96.48 198.95 L96.87 198.95 L97.27 198.95 L97.66 198.95 L98.06 198.95 L98.46 198.95 L98.85 198.95 L99.25 198.95 L99.64 198.95 L100.04 198.95 L100.44 198.95 L100.83 198.95 L101.23 198.95 L101.62 198.95 L102.02 198.95 L102.42 198.95 L102.81 198.95 L103.21 198.95 L103.60 198.95 L104.00 198.95 L104.40 198.95 L104.79 198.95 L105.19 198.95 L105.58 198.95 L105.98 198.95 L106.38 198.95 L106.77 198.95 L107.17 198.95 L107.56 198.95 L107.96 198.95 L108.36 198.95 L108.75 198.95 L109.15 198.95 L109.54 198.95 L109.94 198.95 L110.34 198.95 L110.73 198.95 L111.13 198.95 L111.52 198.95 L111.92 198.95 L112.32 198.95 L112.71 198.95 L113.11 198.95 L113.50 198.95 L113.90 198.95 L114.30 198.95 L114.69 198.95 L115.09 198.95 L115.48 198.95 L115.88 198.95 L116.28 198.95 L116.67 198.95 L117.07 198.95 L117.46 198.95 L117.86 198.95 L118.26 198.95 L118.65 198.95 L119.05 198.95 L119.44 198.95 L119.84 198.95 L120.24 198.95 L120.63 198.95 L121.03 198.95 L121.42 198.95 L121.82 198.95 L122.22 198.95 L122.61 198.95 L123.01 198.95 L123.40 198.95 L123.80 198.95 L124.20 198.95 L124.59 198.95 L124.99 198.95 L125.38 198.95 L125.78 198.95 L126.18 198.95 L126.57 198.95 L126.97 198.95 L127.36 198.95 L127.76 198.95 L128.16 198.95 L128.55 198.95 L128.95 198.95 L129.34 198.95 L129.74 198.95 L130.14 198.95 L130.53 198.95 L130.93 198.95 L131.32 198.95 L131.72 198.95 L132.12 198.95 L132.51 198.95 L132.91 198.95 L133.30 198.95 L133.70 198.95 L134.10 198.95 L134.49 198.95 L134.89 198.95 L135.28 198.95 L135.68 198.95 L136.08 198.95 L136.47 198.95 L136.87 198.95 L137.26 198.95 L137.66 198.95 L138.06 198.95 L138.45 198.95 L138.85 198.95 L139.24 198.95 L139.64 198.95 L140.04 198.95 L140.43 198.95 L140.83 198.95 L141.22 198.95 L141.62 198.95 L142.02 198.95 L142.41 198.95 L142.81 198.95 L143.20 198.95 L143.60 198.95 L144.00 198.95 L144.39 198.95 L144.79 198.95 L145.18 198.95 L145.58 198.95 L145.98 198.95 L146.37 198.95 L146.77 198.95 L147.16 198.95 L147.56 198.95 L147.96 198.95 L148.35 198.95 L148.75 198.95 L149.14 198.95 L149.54 198.95 L149.94 198.95 L150.33 198.95 L150.73 198.95 L151.12 198.95 L151.52 198.95 L151.92 198.95 L152.31 198.95 L152.71 198.95 L153.10 198.95 L153.50 198.95 L153.90 198.95 L154.29 198.95 L154.69 198.95 L155.08 198.95 L155.48 198.95 L155.88 198.95 L156.27 198.95 L156.67 198.95 L157.06 198.95 L157.46 198.95 L157.86 198.95 L158.25 198.95 L158.65 198.95 L159.04 198.95 L159.44 198.95 L159.84 198.95 L160.23 198.95 L160.63 198.95 L161.02 198.95 L161.42 198.95 L161.82 198.95 L162.21 198.95 L162.61 198.95 L163.00 198.95 L163.40 198.95 L163.80 198.95 L164.19 198.95 L164.59 198.95 L164.98 198.95 L165.38 198.95 L165.78 198.95 L166.17 198.95 L166.57 198.95 L166.96 198.95 L167.36 198.94 L167.76 198.94 L168.15 198.94 L168.55 198.94 L168.94 198.93 L169.34 198.92 L169.74 198.91 L170.13 198.89 L170.53 198.87 L170.92 198.84 L171.32 198.81 L171.72 198.75 L172.11 198.69 L172.51 198.60 L172.90 198.48 L173.30 198.33 L173.70 198.13 L174.09 197.87 L174.49 197.55 L174.88 197.14 L175.28 196.62 L175.68 195.97 L176.07 195.16 L176.47 194.16 L176.86 192.93 L177.26 191.44 L177.66 189.64 L178.05 187.48 L178.45 184.91 L178.84 181.88 L179.24 178.34 L179.64 174.23 L180.03 169.50 L180.43 164.11 L180.82 158.04 L181.22 151.26 L181.62 143.77 L182.01 135.59 L182.41 126.76 L182.80 117.37 L183.20 107.51 L183.60 97.33 L183.99 87.02 L184.39 76.79 L184.78 66.90 L185.18 57.67 L185.58 49.43 L185.97 42.59 L186.37 37.63 L186.76 35.38 L187.16 37.63 L187.56 42.59 L187.95 49.43 L188.35 57.67 L188.74 66.90 L189.14 76.79 L189.54 87.02 L189.93 97.33 L190.33 107.51 L190.72 117.37 L191.12 126.76 L191.52 135.59 L191.91 143.77 L192.31 151.26 L192.70 158.04 L193.10 164.11 L193.50 169.50 L193.89 174.23 L194.29 178.34 L194.68 181.88 L195.08 184.91 L195.48 187.48 L195.87 189.64 L196.27 191.44 L196.66 192.93 L197.06 194.16 L197.46 195.16 L197.85 195.97 L198.25 196.62 L198.64 197.14 L199.04 197.55 L199.44 197.87 L199.83 198.13 L200.23 198.33 L200.62 198.48 L201.02 198.60 L201.42 198.69 L201.81 198.75 L202.21 198.81 L202.60 198.84 L203.00 198.87 L203.40 198.89 L203.79 198.91 L204.19 198.92 L204.58 198.93 L204.98 198.94 L205.38 198.94 L205.77 198.94 L206.17 198.94 L206.56 198.95 L206.96 198.95 L207.36 198.95 L207.75 198.95 L208.15 198.95 L208.54 198.95 L208.94 198.95 L209.34 198.95 L209.73 198.95 L210.13 198.95 L210.52 198.95 L210.92 198.95 L211.32 198.95 L211.71 198.95 L212.11 198.95 L212.50 198.95 L212.90 198.95 L213.30 198.95 L213.69 198.95 L214.09 198.95 L214.48 198.95 L214.88 198.95 L215.28 198.95 L215.67 198.95 L216.07 198.95 L216.46 198.95 L216.86 198.95 L217.26 198.95 L217.65 198.95 L218.05 198.95 L218.44 198.95 L218.84 198.95 L219.24 198.95 L219.63 198.95 L220.03 198.95 L220.42 198.95 L220.82 198.95 L221.22 198.95 L221.61 198.95 L222.01 198.95 L222.40 198.95 L222.80 198.95 L223.20 198.95 L223.59 198.95 L223.99 198.95 L224.38 198.95 L224.78 198.95 L225.18 198.95 L225.57 198.95 L225.97 198.95 L226.36 198.95 L226.76 198.95 L227.16 198.95 L227.55 198.95 L227.95 198.95 L228.34 198.95 L228.74 198.95 L229.14 198.95 L229.53 198.95 L229.93 198.95 L230.32 198.95 L230.72 198.95 L231.12 198.95 L231.51 198.95 L231.91 198.95 L232.30 198.95 L232.70 198.95 L233.10 198.95 L233.49 198.95 L233.89 198.95 L234.28 198.95 L234.68 198.95 L235.08 198.95 L235.47 198.95 L235.87 198.95 L236.26 198.95 L236.66 198.95 L237.06 198.95 L237.45 198.95 L237.85 198.95 L238.24 198.95 L238.64 198.95 L239.04 198.95 L239.43 198.95 L239.83 198.95 L240.22 198.95 L240.62 198.95 L241.02 198.95 L241.41 198.95 L241.81 198.95 L242.20 198.95 L242.60 198.95 L243.00 198.95 L243.39 198.95 L243.79 198.95 L244.18 198.95 L244.58 198.95 L244.98 198.95 L245.37 198.95 L245.77 198.95 L246.16 198.95 L246.56 198.95 L246.96 198.95 L247.35 198.95 L247.75 198.95 L248.14 198.95 L248.54 198.95 L248.94 198.95 L249.33 198.95 L249.73 198.95 L250.12 198.95 L250.52 198.95 L250.92 198.95 L251.31 198.95 L251.71 198.95 L252.10 198.95 L252.50 198.95 L252.90 198.95 L253.29 198.95 L253.69 198.95 L254.08 198.95 L254.48 198.95 L254.88 198.95 L255.27 198.95 L255.67 198.95 L256.06 198.95 L256.46 198.95 L256.86 198.95 L257.25 198.95 L257.65 198.95 L258.04 198.95 L258.44 198.95 L258.84 198.95 L259.23 198.95 L259.63 198.95 L260.02 198.95 L260.42 198.95 L260.82 198.95 L261.21 198.95 L261.61 198.95 L262.00 198.95 L262.40 198.95 L262.80 198.95 L263.19 198.95 L263.59 198.95 L263.98 198.95 L264.38 198.95 L264.78 198.95 L265.17 198.95 L265.57 198.95 L265.96 198.95 L266.36 198.95 L266.76 198.95 L267.15 198.95 L267.55 198.95 L267.94 198.95 L268.34 198.95 L268.74 198.95 L269.13 198.95 L269.53 198.95 L269.92 198.95 L270.32 198.95 L270.72 198.95 L271.11 198.95 L271.51 198.95 L271.90 198.95 L272.30 198.95 L272.70 198.95 L273.09 198.95 L273.49 198.95 L273.88 198.95 L274.28 198.95 L274.68 198.95 L275.07 198.95 L275.47 198.95 L275.86 198.95 L276.26 198.95 L276.66 198.95 L277.05 198.95 L277.45 198.95 L277.84 198.95 L278.24 198.95 L278.64 198.95 L279.03 198.95 L279.43 198.95 L279.82 198.95 L280.22 198.95 L280.62 198.95 L281.01 198.95 L281.41 198.95 L281.80 198.95 L282.20 198.95 L282.60 198.95 L282.99 198.95 L283.39 198.95 L283.78 198.95 L284.18 198.95 L284.58 198.95 L284.97 198.95 L285.37 198.95 L285.76 198.95 L286.16 198.95 L286.56 198.95 L286.95 198.95 L287.35 198.95 L287.74 198.95 L288.14 198.95 L288.54 198.95 L288.93 198.95 L289.33 198.95 L289.72 198.95 L290.12 198.95 L290.52 198.95 L290.91 198.95 L291.31 198.95 L291.70 198.95 L292.10 198.95 L292.50 198.95 L292.89 198.95 L293.29 198.95 L293.68 198.95 L294.08 198.95 L294.48 198.95 L294.87 198.95 L295.27 198.95 L295.66 198.95 L296.06 198.95 L296.46 198.95 L296.85 198.95 L297.25 198.95 L297.64 198.95 L298.04 198.95 L298.44 198.95 L298.83 198.95 L299.23 198.95 L299.62 198.95 L300.02 198.95 L300.42 198.95 L300.81 198.95 L301.21 198.95 L301.60 198.95 L302.00 198.95 L302.40 198.95 L302.79 198.95 L303.19 198.95 L303.58 198.95 L303.98 198.95 L304.38 198.95 L304.77 198.95 L305.17 198.95 L305.56 198.95 L305.96 198.95 L306.36 198.95 L306.75 198.95 L307.15 198.95 L307.54 198.95 L307.94 198.95 L308.34 198.95 L308.73 198.95 L309.13 198.95 L309.52 198.95 L309.92 198.95 L310.32 198.95 L310.71 198.95 L311.11 198.95 L311.50 198.95 L311.90 198.95 L312.30 198.95 L312.69 198.95 L313.09 198.95 L313.48 198.95 L313.88 198.95 L314.28 198.95 L314.67 198.95 L315.07 198.95 L315.46 198.95 L315.86 198.95 L316.26 198.95 L316.65 198.95 L317.05 198.95 L317.44 198.95 L317.84 198.95 L318.24 198.95 L318.63 198.95 L319.03 198.95 L319.42 198.95 L319.82 198.95 L320.22 198.95 L320.61 198.95 L321.01 198.95 L321.40 198.95 L321.80 198.95 L322.20 198.95 L322.59 198.95 L322.99 198.95 L323.38 198.95 L323.78 198.95 L324.18 198.95 L324.57 198.95 L324.97 198.95 L325.36 198.95 L325.76 198.95 L326.16 198.95 L326.55 198.95 L326.95 198.95 L327.34 198.95 L327.74 198.95 L328.14 198.95 L328.53 198.95 L328.93 198.95 L329.32 198.95 L329.72 198.95 L330.12 198.95 L330.51 198.95 L330.91 198.95 L331.30 198.95 L331.70 198.95 L332.10 198.95 L332.49 198.95 L332.89 198.95 L333.28 198.95 L333.68 198.95 L334.08 198.95 L334.47 198.95 L334.87 198.95 L335.26 198.95 L335.66 198.95 L336.06 198.95 L336.45 198.95 L336.85 198.95 L337.24 198.95 L337.64 198.95 L338.04 198.95 L338.43 198.95 L338.83 198.95 L339.22 198.95 L339.62 198.95 L340.02 198.95 L340.41 198.95 L340.81 198.95 L341.20 198.95 L341.60 198.95 L342.00 198.95 L342.39 198.95 L342.79 198.95 L343.18 198.95 L343.58 198.95 L343.98 198.95 L344.37 198.95 L344.77 198.95 L345.16 198.95 L345.56 198.95 L345.96 198.95 L346.35 198.95 L346.75 198.95 L347.14 198.95 L347.54 198.95 L347.94 198.95 L348.33 198.95 L348.73 198.95 L349.12 198.95 L349.52 198.95 L349.92 198.95 L350.31 198.95 L350.71 198.95 L351.10 198.95 L351.50 198.95 L351.90 198.95 L352.29 198.95 L352.69 198.95 L353.08 198.95 L353.48 198.95 L353.88 198.95 L354.27 198.95 L354.67 198.95 L355.06 198.95 L355.46 198.95 L355.86 198.95 L356.25 198.95 L356.65 198.95 L357.04 198.95 L357.44 198.95 L357.84 198.95 L358.23 198.95 L358.63 198.95 L359.02 198.95 L359.42 198.95 L359.82 198.95 L360.21 198.95 L360.61 198.95 L361.00 198.95 L361.40 198.95 L361.80 198.95 L362.19 198.95 L362.59 198.95 L362.98 198.95 L363.38 198.95 L363.78 198.95 L364.17 198.95 L364.57 198.95 L364.96 198.95 L365.36 198.95 L365.76 198.95 L366.15 198.95 L366.55 198.95 L366.94 198.95 L367.34 198.95 L367.74 198.95 L368.13 198.95 L368.53 198.95 L368.92 198.95 L369.32 198.95 L369.72 198.95 L370.11 198.95 L370.51 198.95 L370.90 198.95 L371.30 198.95 L371.70 198.95 L372.09 198.95 L372.49 198.95 L372.88 198.95 L373.28 198.95 L373.68 198.95 L374.07 198.95 L374.47 198.95 L374.86 198.95 L375.26 198.95 L375.66 198.95 L376.05 198.95 L376.45 198.95 L376.84 198.95 L377.24 198.95 L377.64 198.95 L378.03 198.95 L378.43 198.95 L378.82 198.95 L379.22 198.95 L379.62 198.95 L380.01 198.95 L380.41 198.95 L380.80 198.95 L381.20 198.95 L381.60 198.95 L381.99 198.95 L382.39 198.95 L382.78 198.95 L383.18 198.95 L383.58 198.95 L383.97 198.95 L384.37 198.95 L384.76 198.95 L385.16 198.95" fill="none" stroke="#ff00ff" stroke-width="2.2" stroke-dasharray="1.1 1.0" stroke-linejoin="round"/>
<path d="M76.28 198.95 L76.68 198.95 L77.07 198.95 L77.47 198.95 L77.86 198.95 L78.26 198.95 L78.66 198.95 L79.05 198.95 L79.45 198.95 L79.84 198.95 L80.24 198.95 L80.64 198.95 L81.03 198.95 L81.43 198.95 L81.82 198.95 L82.22 198.95 L82.62 198.95 L83.01 198.95 L83.41 198.95 L83.80 198.95 L84.20 198.95 L84.60 198.95 L84.99 198.95 L85.39 198.95 L85.78 198.95 L86.18 198.95 L86.58 198.95 L86.97 198.95 L87.37 198.95 L87.76 198.95 L88.16 198.95 L88.56 198.95 L88.95 198.95 L89.35 198.95 L89.74 198.95 L90.14 198.95 L90.54 198.95 L90.93 198.95 L91.33 198.95 L91.72 198.95 L92.12 198.95 L92.52 198.95 L92.91 198.95 L93.31 198.95 L93.70 198.95 L94.10 198.95 L94.50 198.95 L94.89 198.95 L95.29 198.95 L95.68 198.95 L96.08 198.95 L96.48 198.95 L96.87 198.95 L97.27 198.95 L97.66 198.95 L98.06 198.95 L98.46 198.95 L98.85 198.95 L99.25 198.95 L99.64 198.95 L100.04 198.95 L100.44 198.95 L100.83 198.95 L101.23 198.95 L101.62 198.95 L102.02 198.95 L102.42 198.95 L102.81 198.95 L103.21 198.95 L103.60 198.95 L104.00 198.95 L104.40 198.95 L104.79 198.95 L105.19 198.95 L105.58 198.95 L105.98 198.95 L106.38 198.95 L106.77 198.95 L107.17 198.95 L107.56 198.95 L107.96 198.95 L108.36 198.95 L108.75 198.95 L109.15 198.95 L109.54 198.95 L109.94 198.95 L110.34 198.95 L110.73 198.95 L111.13 198.95 L111.52 198.95 L111.92 198.95 L112.32 198.95 L112.71 198.95 L113.11 198.95 L113.50 198.95 L113.90 198.95 L114.30 198.95 L114.69 198.95 L115.09 198.95 L115.48 198.95 L115.88 198.95 L116.28 198.95 L116.67 198.95 L117.07 198.95 L117.46 198.95 L117.86 198.95 L118.26 198.95 L118.65 198.95 L119.05 198.95 L119.44 198.95 L119.84 198.95 L120.24 198.95 L120.63 198.95 L121.03 198.95 L121.42 198.95 L121.82 198.95 L122.22 198.95 L122.61 198.95 L123.01 198.95 L123.40 198.95 L123.80 198.95 L124.20 198.95 L124.59 198.95 L124.99 198.95 L125.38 198.95 L125.78 198.95 L126.18 198.95 L126.57 198.95 L126.97 198.95 L127.36 198.95 L127.76 198.95 L128.16 198.95 L128.55 198.95 L128.95 198.95 L129.34 198.95 L129.74 198.95 L130.14 198.95 L130.53 198.95 L130.93 198.95 L131.32 198.95 L131.72 198.95 L132.12 198.95 L132.51 198.95 L132.91 198.95 L133.30 198.95 L133.70 198.95 L134.10 198.95 L134.49 198.95 L134.89 198.95 L135.28 198.95 L135.68 198.95 L136.08 198.95 L136.47 198.95 L136.87 198.95 L137.26 198.95 L137.66 198.95 L138.06 198.95 L138.45 198.95 L138.85 198.95 L139.24 198.95 L139.64 198.95 L140.04 198.95 L140.43 198.95 L140.83 198.94 L141.22 198.94 L141.62 198.93 L142.02 198.93 L142.41 198.91 L142.81 198.89 L143.20 198.87 L143.60 198.82 L144.00 198.76 L144.39 198.67 L144.79 198.55 L145.18 198.37 L145.58 198.12 L145.98 197.78 L146.37 197.32 L146.77 196.70 L147.16 195.87 L147.56 194.79 L147.96 193.38 L148.35 191.58 L148.75 189.30 L149.14 186.45 L149.54 182.93 L149.94 178.66 L150.33 173.53 L150.73 167.46 L151.12 160.38 L151.52 152.25 L151.92 143.06 L152.31 132.84 L152.71 121.67 L153.10 109.70 L153.50 97.12 L153.90 84.20 L154.29 71.27 L154.69 58.71 L155.08 46.94 L155.48 36.42 L155.88 27.62 L156.27 21.01 L156.67 17.09 L157.06 16.68 L157.46 19.99 L157.86 26.10 L158.25 34.51 L158.65 44.73 L159.04 56.28 L159.44 68.72 L159.84 81.60 L160.23 94.55 L160.63 107.22 L161.02 119.33 L161.42 130.68 L161.82 141.10 L162.21 150.50 L162.61 158.84 L163.00 166.13 L163.40 172.40 L163.80 177.71 L164.19 182.14 L164.59 185.80 L164.98 188.77 L165.38 191.16 L165.78 193.05 L166.17 194.53 L166.57 195.68 L166.96 196.55 L167.36 197.21 L167.76 197.70 L168.15 198.06 L168.55 198.32 L168.94 198.51 L169.34 198.65 L169.74 198.75 L170.13 198.81 L170.53 198.86 L170.92 198.89 L171.32 198.91 L171.72 198.92 L172.11 198.93 L172.51 198.94 L172.90 198.94 L173.30 198.95 L173.70 198.95 L174.09 198.95 L174.49 198.95 L174.88 198.95 L175.28 198.95 L175.68 198.95 L176.07 198.95 L176.47 198.95 L176.86 198.95 L177.26 198.95 L177.66 198.95 L178.05 198.95 L178.45 198.95 L178.84 198.95 L179.24 198.95 L179.64 198.95 L180.03 198.95 L180.43 198.95 L180.82 198.95 L181.22 198.95 L181.62 198.95 L182.01 198.95 L182.41 198.95 L182.80 198.95 L183.20 198.95 L183.60 198.95 L183.99 198.95 L184.39 198.95 L184.78 198.95 L185.18 198.95 L185.58 198.95 L185.97 198.95 L186.37 198.95 L186.76 198.95 L187.16 198.95 L187.56 198.95 L187.95 198.95 L188.35 198.95 L188.74 198.95 L189.14 198.95 L189.54 198.95 L189.93 198.95 L190.33 198.95 L190.72 198.95 L191.12 198.95 L191.52 198.95 L191.91 198.95 L192.31 198.95 L192.70 198.95 L193.10 198.95 L193.50 198.95 L193.89 198.95 L194.29 198.95 L194.68 198.95 L195.08 198.95 L195.48 198.95 L195.87 198.95 L196.27 198.95 L196.66 198.95 L197.06 198.95 L197.46 198.95 L197.85 198.95 L198.25 198.95 L198.64 198.95 L199.04 198.95 L199.44 198.95 L199.83 198.95 L200.23 198.95 L200.62 198.95 L201.02 198.95 L201.42 198.95 L201.81 198.95 L202.21 198.95 L202.60 198.95 L203.00 198.95 L203.40 198.95 L203.79 198.95 L204.19 198.95 L204.58 198.95 L204.98 198.95 L205.38 198.95 L205.77 198.95 L206.17 198.95 L206.56 198.95 L206.96 198.95 L207.36 198.95 L207.75 198.95 L208.15 198.95 L208.54 198.95 L208.94 198.95 L209.34 198.95 L209.73 198.95 L210.13 198.95 L210.52 198.95 L210.92 198.95 L211.32 198.95 L211.71 198.95 L212.11 198.95 L212.50 198.95 L212.90 198.95 L213.30 198.95 L213.69 198.95 L214.09 198.95 L214.48 198.95 L214.88 198.95 L215.28 198.95 L215.67 198.95 L216.07 198.95 L216.46 198.95 L216.86 198.95 L217.26 198.95 L217.65 198.95 L218.05 198.95 L218.44 198.95 L218.84 198.95 L219.24 198.95 L219.63 198.95 L220.03 198.95 L220.42 198.95 L220.82 198.95 L221.22 198.95 L221.61 198.95 L222.01 198.95 L222.40 198.95 L222.80 198.95 L223.20 198.95 L223.59 198.95 L223.99 198.95 L224.38 198.95 L224.78 198.95 L225.18 198.95 L225.57 198.95 L225.97 198.95 L226.36 198.95 L226.76 198.95 L227.16 198.95 L227.55 198.95 L227.95 198.95 L228.34 198.95 L228.74 198.95 L229.14 198.95 L229.53 198.95 L229.93 198.95 L230.32 198.95 L230.72 198.95 L231.12 198.95 L231.51 198.95 L231.91 198.95 L232.30 198.95 L232.70 198.95 L233.10 198.95 L233.49 198.95 L233.89 198.95 L234.28 198.95 L234.68 198.95 L235.08 198.95 L235.47 198.95 L235.87 198.95 L236.26 198.95 L236.66 198.95 L237.06 198.95 L237.45 198.95 L237.85 198.95 L238.24 198.95 L238.64 198.95 L239.04 198.95 L239.43 198.95 L239.83 198.95 L240.22 198.95 L240.62 198.95 L241.02 198.95 L241.41 198.95 L241.81 198.95 L242.20 198.95 L242.60 198.95 L243.00 198.95 L243.39 198.95 L243.79 198.95 L244.18 198.95 L244.58 198.95 L244.98 198.95 L245.37 198.95 L245.77 198.95 L246.16 198.95 L246.56 198.95 L246.96 198.95 L247.35 198.95 L247.75 198.95 L248.14 198.95 L248.54 198.95 L248.94 198.95 L249.33 198.95 L249.73 198.95 L250.12 198.95 L250.52 198.95 L250.92 198.95 L251.31 198.95 L251.71 198.95 L252.10 198.95 L252.50 198.95 L252.90 198.95 L253.29 198.95 L253.69 198.95 L254.08 198.95 L254.48 198.95 L254.88 198.95 L255.27 198.95 L255.67 198.95 L256.06 198.95 L256.46 198.95 L256.86 198.95 L257.25 198.95 L257.65 198.95 L258.04 198.95 L258.44 198.95 L258.84 198.95 L259.23 198.95 L259.63 198.95 L260.02 198.95 L260.42 198.95 L260.82 198.95 L261.21 198.95 L261.61 198.95 L262.00 198.95 L262.40 198.95 L262.80 198.95 L263.19 198.95 L263.59 198.95 L263.98 198.95 L264.38 198.95 L264.78 198.95 L265.17 198.95 L265.57 198.95 L265.96 198.95 L266.36 198.95 L266.76 198.95 L267.15 198.95 L267.55 198.95 L267.94 198.95 L268.34 198.95 L268.74 198.95 L269.13 198.95 L269.53 198.95 L269.92 198.95 L270.32 198.95 L270.72 198.95 L271.11 198.95 L271.51 198.95 L271.90 198.95 L272.30 198.95 L272.70 198.95 L273.09 198.95 L273.49 198.95 L273.88 198.95 L274.28 198.95 L274.68 198.95 L275.07 198.95 L275.47 198.95 L275.86 198.95 L276.26 198.95 L276.66 198.95 L277.05 198.95 L277.45 198.95 L277.84 198.95 L278.24 198.95 L278.64 198.95 L279.03 198.95 L279.43 198.95 L279.82 198.95 L280.22 198.95 L280.62 198.95 L281.01 198.95 L281.41 198.95 L281.80 198.95 L282.20 198.95 L282.60 198.95 L282.99 198.95 L283.39 198.95 L283.78 198.95 L284.18 198.95 L284.58 198.95 L284.97 198.95 L285.37 198.95 L285.76 198.95 L286.16 198.95 L286.56 198.95 L286.95 198.95 L287.35 198.95 L287.74 198.95 L288.14 198.95 L288.54 198.95 L288.93 198.95 L289.33 198.95 L289.72 198.95 L290.12 198.95 L290.52 198.95 L290.91 198.95 L291.31 198.95 L291.70 198.95 L292.10 198.95 L292.50 198.95 L292.89 198.95 L293.29 198.95 L293.68 198.95 L294.08 198.95 L294.48 198.95 L294.87 198.95 L295.27 198.95 L295.66 198.95 L296.06 198.95 L296.46 198.95 L296.85 198.95 L297.25 198.95 L297.64 198.95 L298.04 198.95 L298.44 198.95 L298.83 198.95 L299.23 198.95 L299.62 198.95 L300.02 198.95 L300.42 198.95 L300.81 198.95 L301.21 198.95 L301.60 198.95 L302.00 198.95 L302.40 198.95 L302.79 198.95 L303.19 198.95 L303.58 198.95 L303.98 198.95 L304.38 198.95 L304.77 198.95 L305.17 198.95 L305.56 198.95 L305.96 198.95 L306.36 198.95 L306.75 198.95 L307.15 198.95 L307.54 198.95 L307.94 198.95 L308.34 198.95 L308.73 198.95 L309.13 198.95 L309.52 198.95 L309.92 198.95 L310.32 198.95 L310.71 198.95 L311.11 198.95 L311.50 198.95 L311.90 198.95 L312.30 198.95 L312.69 198.95 L313.09 198.95 L313.48 198.95 L313.88 198.95 L314.28 198.95 L314.67 198.95 L315.07 198.95 L315.46 198.95 L315.86 198.95 L316.26 198.95 L316.65 198.95 L317.05 198.95 L317.44 198.95 L317.84 198.95 L318.24 198.95 L318.63 198.95 L319.03 198.95 L319.42 198.95 L319.82 198.95 L320.22 198.95 L320.61 198.95 L321.01 198.95 L321.40 198.95 L321.80 198.95 L322.20 198.95 L322.59 198.95 L322.99 198.95 L323.38 198.95 L323.78 198.95 L324.18 198.95 L324.57 198.95 L324.97 198.95 L325.36 198.95 L325.76 198.95 L326.16 198.95 L326.55 198.95 L326.95 198.95 L327.34 198.95 L327.74 198.95 L328.14 198.95 L328.53 198.95 L328.93 198.95 L329.32 198.95 L329.72 198.95 L330.12 198.95 L330.51 198.95 L330.91 198.95 L331.30 198.95 L331.70 198.95 L332.10 198.95 L332.49 198.95 L332.89 198.95 L333.28 198.95 L333.68 198.95 L334.08 198.95 L334.47 198.95 L334.87 198.95 L335.26 198.95 L335.66 198.95 L336.06 198.95 L336.45 198.95 L336.85 198.95 L337.24 198.95 L337.64 198.95 L338.04 198.95 L338.43 198.95 L338.83 198.95 L339.22 198.95 L339.62 198.95 L340.02 198.95 L340.41 198.95 L340.81 198.95 L341.20 198.95 L341.60 198.95 L342.00 198.95 L342.39 198.95 L342.79 198.95 L343.18 198.95 L343.58 198.95 L343.98 198.95 L344.37 198.95 L344.77 198.95 L345.16 198.95 L345.56 198.95 L345.96 198.95 L346.35 198.95 L346.75 198.95 L347.14 198.95 L347.54 198.95 L347.94 198.95 L348.33 198.95 L348.73 198.95 L349.12 198.95 L349.52 198.95 L349.92 198.95 L350.31 198.95 L350.71 198.95 L351.10 198.95 L351.50 198.95 L351.90 198.95 L352.29 198.95 L352.69 198.95 L353.08 198.95 L353.48 198.95 L353.88 198.95 L354.27 198.95 L354.67 198.95 L355.06 198.95 L355.46 198.95 L355.86 198.95 L356.25 198.95 L356.65 198.95 L357.04 198.95 L357.44 198.95 L357.84 198.95 L358.23 198.95 L358.63 198.95 L359.02 198.95 L359.42 198.95 L359.82 198.95 L360.21 198.95 L360.61 198.95 L361.00 198.95 L361.40 198.95 L361.80 198.95 L362.19 198.95 L362.59 198.95 L362.98 198.95 L363.38 198.95 L363.78 198.95 L364.17 198.95 L364.57 198.95 L364.96 198.95 L365.36 198.95 L365.76 198.95 L366.15 198.95 L366.55 198.95 L366.94 198.95 L367.34 198.95 L367.74 198.95 L368.13 198.95 L368.53 198.95 L368.92 198.95 L369.32 198.95 L369.72 198.95 L370.11 198.95 L370.51 198.95 L370.90 198.95 L371.30 198.95 L371.70 198.95 L372.09 198.95 L372.49 198.95 L372.88 198.95 L373.28 198.95 L373.68 198.95 L374.07 198.95 L374.47 198.95 L374.86 198.95 L375.26 198.95 L375.66 198.95 L376.05 198.95 L376.45 198.95 L376.84 198.95 L377.24 198.95 L377.64 198.95 L378.03 198.95 L378.43 198.95 L378.82 198.95 L379.22 198.95 L379.62 198.95 L380.01 198.95 L380.41 198.95 L380.80 198.95 L381.20 198.95 L381.60 198.95 L381.99 198.95 L382.39 198.95 L382.78 198.95 L383.18 198.95 L383.58 198.95 L383.97 198.95 L384.37 198.95 L384.76 198.95 L385.16 198.95" fill="none" stroke="#00ffff" stroke-width="2.0" stroke-dasharray="4.2 1.3 1.3 1.3" stroke-linejoin="round"/>
<path d="M76.28 198.95 L76.68 198.95 L77.07 198.95 L77.47 198.95 L77.86 198.95 L78.26 198.95 L78.66 198.95 L79.05 198.95 L79.45 198.95 L79.84 198.95 L80.24 198.95 L80.64 198.95 L81.03 198.95 L81.43 198.95 L81.82 198.95 L82.22 198.95 L82.62 198.95 L83.01 198.95 L83.41 198.95 L83.80 198.95 L84.20 198.95 L84.60 198.95 L84.99 198.95 L85.39 198.95 L85.78 198.95 L86.18 198.95 L86.58 198.95 L86.97 198.95 L87.37 198.95 L87.76 198.95 L88.16 198.95 L88.56 198.95 L88.95 198.95 L89.35 198.95 L89.74 198.95 L90.14 198.95 L90.54 198.95 L90.93 198.95 L91.33 198.95 L91.72 198.95 L92.12 198.95 L92.52 198.95 L92.91 198.95 L93.31 198.95 L93.70 198.95 L94.10 198.95 L94.50 198.95 L94.89 198.95 L95.29 198.95 L95.68 198.95 L96.08 198.95 L96.48 198.95 L96.87 198.95 L97.27 198.95 L97.66 198.95 L98.06 198.95 L98.46 198.95 L98.85 198.95 L99.25 198.95 L99.64 198.95 L100.04 198.95 L100.44 198.95 L100.83 198.95 L101.23 198.95 L101.62 198.95 L102.02 198.95 L102.42 198.95 L102.81 198.95 L103.21 198.95 L103.60 198.95 L104.00 198.95 L104.40 198.95 L104.79 198.95 L105.19 198.95 L105.58 198.95 L105.98 198.95 L106.38 198.95 L106.77 198.95 L107.17 198.95 L107.56 198.94 L107.96 198.94 L108.36 198.93 L108.75 198.92 L109.15 198.90 L109.54 198.88 L109.94 198.84 L110.34 198.79 L110.73 198.71 L111.13 198.59 L111.52 198.43 L111.92 198.20 L112.32 197.88 L112.71 197.45 L113.11 196.86 L113.50 196.07 L113.90 195.03 L114.30 193.67 L114.69 191.92 L115.09 189.70 L115.48 186.91 L115.88 183.47 L116.28 179.28 L116.67 174.24 L117.07 168.27 L117.46 161.30 L117.86 153.31 L118.26 144.28 L118.65 134.24 L119.05 123.29 L119.44 111.57 L119.84 99.28 L120.24 86.68 L120.63 74.08 L121.03 61.83 L121.42 50.34 L121.82 40.02 L122.22 31.27 L122.61 24.50 L123.01 20.10 L123.40 18.45 L123.80 20.10 L124.20 24.50 L124.59 31.27 L124.99 40.02 L125.38 50.34 L125.78 61.83 L126.18 74.08 L126.57 86.68 L126.97 99.28 L127.36 111.57 L127.76 123.29 L128.16 134.24 L128.55 144.28 L128.95 153.31 L129.34 161.30 L129.74 168.27 L130.14 174.24 L130.53 179.28 L130.93 183.47 L131.32 186.91 L131.72 189.70 L132.12 191.92 L132.51 193.67 L132.91 195.03 L133.30 196.07 L133.70 196.86 L134.10 197.45 L134.49 197.88 L134.89 198.20 L135.28 198.43 L135.68 198.59 L136.08 198.71 L136.47 198.79 L136.87 198.84 L137.26 198.88 L137.66 198.90 L138.06 198.92 L138.45 198.93 L138.85 198.94 L139.24 198.94 L139.64 198.95 L140.04 198.95 L140.43 198.95 L140.83 198.95 L141.22 198.95 L141.62 198.95 L142.02 198.95 L142.41 198.95 L142.81 198.95 L143.20 198.95 L143.60 198.95 L144.00 198.95 L144.39 198.95 L144.79 198.95 L145.18 198.95 L145.58 198.95 L145.98 198.95 L146.37 198.95 L146.77 198.95 L147.16 198.95 L147.56 198.95 L147.96 198.95 L148.35 198.95 L148.75 198.95 L149.14 198.95 L149.54 198.95 L149.94 198.95 L150.33 198.95 L150.73 198.95 L151.12 198.95 L151.52 198.95 L151.92 198.95 L152.31 198.95 L152.71 198.95 L153.10 198.95 L153.50 198.95 L153.90 198.95 L154.29 198.95 L154.69 198.95 L155.08 198.95 L155.48 198.95 L155.88 198.95 L156.27 198.95 L156.67 198.95 L157.06 198.95 L157.46 198.95 L157.86 198.95 L158.25 198.95 L158.65 198.95 L159.04 198.95 L159.44 198.95 L159.84 198.95 L160.23 198.95 L160.63 198.95 L161.02 198.95 L161.42 198.95 L161.82 198.95 L162.21 198.95 L162.61 198.95 L163.00 198.95 L163.40 198.95 L163.80 198.95 L164.19 198.95 L164.59 198.95 L164.98 198.95 L165.38 198.95 L165.78 198.95 L166.17 198.95 L166.57 198.95 L166.96 198.95 L167.36 198.95 L167.76 198.95 L168.15 198.95 L168.55 198.95 L168.94 198.95 L169.34 198.95 L169.74 198.95 L170.13 198.95 L170.53 198.95 L170.92 198.95 L171.32 198.95 L171.72 198.95 L172.11 198.95 L172.51 198.95 L172.90 198.95 L173.30 198.95 L173.70 198.95 L174.09 198.95 L174.49 198.95 L174.88 198.95 L175.28 198.95 L175.68 198.95 L176.07 198.95 L176.47 198.95 L176.86 198.95 L177.26 198.95 L177.66 198.95 L178.05 198.95 L178.45 198.95 L178.84 198.95 L179.24 198.95 L179.64 198.95 L180.03 198.95 L180.43 198.95 L180.82 198.95 L181.22 198.95 L181.62 198.95 L182.01 198.95 L182.41 198.95 L182.80 198.95 L183.20 198.95 L183.60 198.95 L183.99 198.95 L184.39 198.95 L184.78 198.95 L185.18 198.95 L185.58 198.95 L185.97 198.95 L186.37 198.95 L186.76 198.95 L187.16 198.95 L187.56 198.95 L187.95 198.95 L188.35 198.95 L188.74 198.95 L189.14 198.95 L189.54 198.95 L189.93 198.95 L190.33 198.95 L190.72 198.95 L191.12 198.95 L191.52 198.95 L191.91 198.95 L192.31 198.95 L192.70 198.95 L193.10 198.95 L193.50 198.95 L193.89 198.95 L194.29 198.95 L194.68 198.95 L195.08 198.95 L195.48 198.95 L195.87 198.95 L196.27 198.95 L196.66 198.95 L197.06 198.95 L197.46 198.95 L197.85 198.95 L198.25 198.95 L198.64 198.95 L199.04 198.95 L199.44 198.95 L199.83 198.95 L200.23 198.95 L200.62 198.95 L201.02 198.95 L201.42 198.95 L201.81 198.95 L202.21 198.95 L202.60 198.95 L203.00 198.95 L203.40 198.95 L203.79 198.95 L204.19 198.95 L204.58 198.95 L204.98 198.95 L205.38 198.95 L205.77 198.95 L206.17 198.95 L206.56 198.95 L206.96 198.95 L207.36 198.95 L207.75 198.95 L208.15 198.95 L208.54 198.95 L208.94 198.95 L209.34 198.95 L209.73 198.95 L210.13 198.95 L210.52 198.95 L210.92 198.95 L211.32 198.95 L211.71 198.95 L212.11 198.95 L212.50 198.95 L212.90 198.95 L213.30 198.95 L213.69 198.95 L214.09 198.95 L214.48 198.95 L214.88 198.95 L215.28 198.95 L215.67 198.95 L216.07 198.95 L216.46 198.95 L216.86 198.95 L217.26 198.95 L217.65 198.95 L218.05 198.95 L218.44 198.95 L218.84 198.95 L219.24 198.95 L219.63 198.95 L220.03 198.95 L220.42 198.95 L220.82 198.95 L221.22 198.95 L221.61 198.95 L222.01 198.95 L222.40 198.95 L222.80 198.95 L223.20 198.95 L223.59 198.95 L223.99 198.95 L224.38 198.95 L224.78 198.95 L225.18 198.95 L225.57 198.95 L225.97 198.95 L226.36 198.95 L226.76 198.95 L227.16 198.95 L227.55 198.95 L227.95 198.95 L228.34 198.95 L228.74 198.95 L229.14 198.95 L229.53 198.95 L229.93 198.95 L230.32 198.95 L230.72 198.95 L231.12 198.95 L231.51 198.95 L231.91 198.95 L232.30 198.95 L232.70 198.95 L233.10 198.95 L233.49 198.95 L233.89 198.95 L234.28 198.95 L234.68 198.95 L235.08 198.95 L235.47 198.95 L235.87 198.95 L236.26 198.95 L236.66 198.95 L237.06 198.95 L237.45 198.95 L237.85 198.95 L238.24 198.95 L238.64 198.95 L239.04 198.95 L239.43 198.95 L239.83 198.95 L240.22 198.95 L240.62 198.95 L241.02 198.95 L241.41 198.95 L241.81 198.95 L242.20 198.95 L242.60 198.95 L243.00 198.95 L243.39 198.95 L243.79 198.95 L244.18 198.95 L244.58 198.95 L244.98 198.95 L245.37 198.95 L245.77 198.95 L246.16 198.95 L246.56 198.95 L246.96 198.95 L247.35 198.95 L247.75 198.95 L248.14 198.95 L248.54 198.95 L248.94 198.95 L249.33 198.95 L249.73 198.95 L250.12 198.95 L250.52 198.95 L250.92 198.95 L251.31 198.95 L251.71 198.95 L252.10 198.95 L252.50 198.95 L252.90 198.95 L253.29 198.95 L253.69 198.95 L254.08 198.95 L254.48 198.95 L254.88 198.95 L255.27 198.95 L255.67 198.95 L256.06 198.95 L256.46 198.95 L256.86 198.95 L257.25 198.95 L257.65 198.95 L258.04 198.95 L258.44 198.95 L258.84 198.95 L259.23 198.95 L259.63 198.95 L260.02 198.95 L260.42 198.95 L260.82 198.95 L261.21 198.95 L261.61 198.95 L262.00 198.95 L262.40 198.95 L262.80 198.95 L263.19 198.95 L263.59 198.95 L263.98 198.95 L264.38 198.95 L264.78 198.95 L265.17 198.95 L265.57 198.95 L265.96 198.95 L266.36 198.95 L266.76 198.95 L267.15 198.95 L267.55 198.95 L267.94 198.95 L268.34 198.95 L268.74 198.95 L269.13 198.95 L269.53 198.95 L269.92 198.95 L270.32 198.95 L270.72 198.95 L271.11 198.95 L271.51 198.95 L271.90 198.95 L272.30 198.95 L272.70 198.95 L273.09 198.95 L273.49 198.95 L273.88 198.95 L274.28 198.95 L274.68 198.95 L275.07 198.95 L275.47 198.95 L275.86 198.95 L276.26 198.95 L276.66 198.95 L277.05 198.95 L277.45 198.95 L277.84 198.95 L278.24 198.95 L278.64 198.95 L279.03 198.95 L279.43 198.95 L279.82 198.95 L280.22 198.95 L280.62 198.95 L281.01 198.95 L281.41 198.95 L281.80 198.95 L282.20 198.95 L282.60 198.95 L282.99 198.95 L283.39 198.95 L283.78 198.95 L284.18 198.95 L284.58 198.95 L284.97 198.95 L285.37 198.95 L285.76 198.95 L286.16 198.95 L286.56 198.95 L286.95 198.95 L287.35 198.95 L287.74 198.95 L288.14 198.95 L288.54 198.95 L288.93 198.95 L289.33 198.95 L289.72 198.95 L290.12 198.95 L290.52 198.95 L290.91 198.95 L291.31 198.95 L291.70 198.95 L292.10 198.95 L292.50 198.95 L292.89 198.95 L293.29 198.95 L293.68 198.95 L294.08 198.95 L294.48 198.95 L294.87 198.95 L295.27 198.95 L295.66 198.95 L296.06 198.95 L296.46 198.95 L296.85 198.95 L297.25 198.95 L297.64 198.95 L298.04 198.95 L298.44 198.95 L298.83 198.95 L299.23 198.95 L299.62 198.95 L300.02 198.95 L300.42 198.95 L300.81 198.95 L301.21 198.95 L301.60 198.95 L302.00 198.95 L302.40 198.95 L302.79 198.95 L303.19 198.95 L303.58 198.95 L303.98 198.95 L304.38 198.95 L304.77 198.95 L305.17 198.95 L305.56 198.95 L305.96 198.95 L306.36 198.95 L306.75 198.95 L307.15 198.95 L307.54 198.95 L307.94 198.95 L308.34 198.95 L308.73 198.95 L309.13 198.95 L309.52 198.95 L309.92 198.95 L310.32 198.95 L310.71 198.95 L311.11 198.95 L311.50 198.95 L311.90 198.95 L312.30 198.95 L312.69 198.95 L313.09 198.95 L313.48 198.95 L313.88 198.95 L314.28 198.95 L314.67 198.95 L315.07 198.95 L315.46 198.95 L315.86 198.95 L316.26 198.95 L316.65 198.95 L317.05 198.95 L317.44 198.95 L317.84 198.95 L318.24 198.95 L318.63 198.95 L319.03 198.95 L319.42 198.95 L319.82 198.95 L320.22 198.95 L320.61 198.95 L321.01 198.95 L321.40 198.95 L321.80 198.95 L322.20 198.95 L322.59 198.95 L322.99 198.95 L323.38 198.95 L323.78 198.95 L324.18 198.95 L324.57 198.95 L324.97 198.95 L325.36 198.95 L325.76 198.95 L326.16 198.95 L326.55 198.95 L326.95 198.95 L327.34 198.95 L327.74 198.95 L328.14 198.95 L328.53 198.95 L328.93 198.95 L329.32 198.95 L329.72 198.95 L330.12 198.95 L330.51 198.95 L330.91 198.95 L331.30 198.95 L331.70 198.95 L332.10 198.95 L332.49 198.95 L332.89 198.95 L333.28 198.95 L333.68 198.95 L334.08 198.95 L334.47 198.95 L334.87 198.95 L335.26 198.95 L335.66 198.95 L336.06 198.95 L336.45 198.95 L336.85 198.95 L337.24 198.95 L337.64 198.95 L338.04 198.95 L338.43 198.95 L338.83 198.95 L339.22 198.95 L339.62 198.95 L340.02 198.95 L340.41 198.95 L340.81 198.95 L341.20 198.95 L341.60 198.95 L342.00 198.95 L342.39 198.95 L342.79 198.95 L343.18 198.95 L343.58 198.95 L343.98 198.95 L344.37 198.95 L344.77 198.95 L345.16 198.95 L345.56 198.95 L345.96 198.95 L346.35 198.95 L346.75 198.95 L347.14 198.95 L347.54 198.95 L347.94 198.95 L348.33 198.95 L348.73 198.95 L349.12 198.95 L349.52 198.95 L349.92 198.95 L350.31 198.95 L350.71 198.95 L351.10 198.95 L351.50 198.95 L351.90 198.95 L352.29 198.95 L352.69 198.95 L353.08 198.95 L353.48 198.95 L353.88 198.95 L354.27 198.95 L354.67 198.95 L355.06 198.95 L355.46 198.95 L355.86 198.95 L356.25 198.95 L356.65 198.95 L357.04 198.95 L357.44 198.95 L357.84 198.95 L358.23 198.95 L358.63 198.95 L359.02 198.95 L359.42 198.95 L359.82 198.95 L360.21 198.95 L360.61 198.95 L361.00 198.95 L361.40 198.95 L361.80 198.95 L362.19 198.95 L362.59 198.95 L362.98 198.95 L363.38 198.95 L363.78 198.95 L364.17 198.95 L364.57 198.95 L364.96 198.95 L365.36 198.95 L365.76 198.95 L366.15 198.95 L366.55 198.95 L366.94 198.95 L367.34 198.95 L367.74 198.95 L368.13 198.95 L368.53 198.95 L368.92 198.95 L369.32 198.95 L369.72 198.95 L370.11 198.95 L370.51 198.95 L370.90 198.95 L371.30 198.95 L371.70 198.95 L372.09 198.95 L372.49 198.95 L372.88 198.95 L373.28 198.95 L373.68 198.95 L374.07 198.95 L374.47 198.95 L374.86 198.95 L375.26 198.95 L375.66 198.95 L376.05 198.95 L376.45 198.95 L376.84 198.95 L377.24 198.95 L377.64 198.95 L378.03 198.95 L378.43 198.95 L378.82 198.95 L379.22 198.95 L379.62 198.95 L380.01 198.95 L380.41 198.95 L380.80 198.95 L381.20 198.95 L381.60 198.95 L381.99 198.95 L382.39 198.95 L382.78 198.95 L383.18 198.95 L383.58 198.95 L383.97 198.95 L384.37 198.95 L384.76 198.95 L385.16 198.95" fill="none" stroke="#ff4500" stroke-width="2.0" stroke-dasharray="1.8 1.3 1.8 1.3 1.8 3.2" stroke-linejoin="round"/>
<path d="M76.28 198.95 L76.68 198.95 L77.07 198.95 L77.47 198.95 L77.86 198.95 L78.26 198.94 L78.66 198.94 L79.05 198.93 L79.45 198.91 L79.84 198.88 L80.24 198.83 L80.64 198.75 L81.03 198.61 L81.43 198.39 L81.82 198.05 L82.22 197.53 L82.62 196.76 L83.01 195.64 L83.41 194.06 L83.80 191.88 L84.20 188.94 L84.60 185.07 L84.99 180.09 L85.39 173.85 L85.78 166.21 L86.18 157.10 L86.58 146.52 L86.97 134.53 L87.37 121.33 L87.76 107.20 L88.16 92.53 L88.56 77.79 L88.95 63.50 L89.35 50.20 L89.74 38.41 L90.14 28.60 L90.54 21.11 L90.93 16.15 L91.33 13.73 L91.72 13.54 L92.12 15.47 L92.52 19.91 L92.91 26.91 L93.31 36.28 L93.70 47.70 L94.10 60.74 L94.50 74.88 L94.89 89.57 L95.29 104.30 L95.68 118.57 L96.08 131.98 L96.48 144.23 L96.87 155.10 L97.27 164.51 L97.66 172.43 L98.06 178.95 L98.46 184.16 L98.85 188.24 L99.25 191.36 L99.64 193.68 L100.04 195.37 L100.44 196.57 L100.83 197.40 L101.23 197.96 L101.62 198.33 L102.02 198.57 L102.42 198.72 L102.81 198.82 L103.21 198.87 L103.60 198.91 L104.00 198.93 L104.40 198.94 L104.79 198.94 L105.19 198.95 L105.58 198.95 L105.98 198.95 L106.38 198.95 L106.77 198.95 L107.17 198.95 L107.56 198.95 L107.96 198.95 L108.36 198.95 L108.75 198.95 L109.15 198.95 L109.54 198.95 L109.94 198.95 L110.34 198.95 L110.73 198.95 L111.13 198.95 L111.52 198.95 L111.92 198.95 L112.32 198.95 L112.71 198.95 L113.11 198.95 L113.50 198.95 L113.90 198.95 L114.30 198.95 L114.69 198.95 L115.09 198.95 L115.48 198.95 L115.88 198.95 L116.28 198.95 L116.67 198.95 L117.07 198.95 L117.46 198.95 L117.86 198.95 L118.26 198.95 L118.65 198.95 L119.05 198.95 L119.44 198.95 L119.84 198.95 L120.24 198.95 L120.63 198.95 L121.03 198.95 L121.42 198.95 L121.82 198.95 L122.22 198.95 L122.61 198.95 L123.01 198.95 L123.40 198.95 L123.80 198.95 L124.20 198.95 L124.59 198.95 L124.99 198.95 L125.38 198.95 L125.78 198.95 L126.18 198.95 L126.57 198.95 L126.97 198.95 L127.36 198.95 L127.76 198.95 L128.16 198.95 L128.55 198.95 L128.95 198.95 L129.34 198.95 L129.74 198.95 L130.14 198.95 L130.53 198.95 L130.93 198.95 L131.32 198.95 L131.72 198.95 L132.12 198.95 L132.51 198.95 L132.91 198.95 L133.30 198.95 L133.70 198.95 L134.10 198.95 L134.49 198.95 L134.89 198.95 L135.28 198.95 L135.68 198.95 L136.08 198.95 L136.47 198.95 L136.87 198.95 L137.26 198.95 L137.66 198.95 L138.06 198.95 L138.45 198.95 L138.85 198.95 L139.24 198.95 L139.64 198.95 L140.04 198.95 L140.43 198.95 L140.83 198.95 L141.22 198.95 L141.62 198.95 L142.02 198.95 L142.41 198.95 L142.81 198.95 L143.20 198.95 L143.60 198.95 L144.00 198.95 L144.39 198.95 L144.79 198.95 L145.18 198.95 L145.58 198.95 L145.98 198.95 L146.37 198.95 L146.77 198.95 L147.16 198.95 L147.56 198.95 L147.96 198.95 L148.35 198.95 L148.75 198.95 L149.14 198.95 L149.54 198.95 L149.94 198.95 L150.33 198.95 L150.73 198.95 L151.12 198.95 L151.52 198.95 L151.92 198.95 L152.31 198.95 L152.71 198.95 L153.10 198.95 L153.50 198.95 L153.90 198.95 L154.29 198.95 L154.69 198.95 L155.08 198.95 L155.48 198.95 L155.88 198.95 L156.27 198.95 L156.67 198.95 L157.06 198.95 L157.46 198.95 L157.86 198.95 L158.25 198.95 L158.65 198.95 L159.04 198.95 L159.44 198.95 L159.84 198.95 L160.23 198.95 L160.63 198.95 L161.02 198.95 L161.42 198.95 L161.82 198.95 L162.21 198.95 L162.61 198.95 L163.00 198.95 L163.40 198.95 L163.80 198.95 L164.19 198.95 L164.59 198.95 L164.98 198.95 L165.38 198.95 L165.78 198.95 L166.17 198.95 L166.57 198.95 L166.96 198.95 L167.36 198.95 L167.76 198.95 L168.15 198.95 L168.55 198.95 L168.94 198.95 L169.34 198.95 L169.74 198.95 L170.13 198.95 L170.53 198.95 L170.92 198.95 L171.32 198.95 L171.72 198.95 L172.11 198.95 L172.51 198.95 L172.90 198.95 L173.30 198.95 L173.70 198.95 L174.09 198.95 L174.49 198.95 L174.88 198.95 L175.28 198.95 L175.68 198.95 L176.07 198.95 L176.47 198.95 L176.86 198.95 L177.26 198.95 L177.66 198.95 L178.05 198.95 L178.45 198.95 L178.84 198.95 L179.24 198.95 L179.64 198.95 L180.03 198.95 L180.43 198.95 L180.82 198.95 L181.22 198.95 L181.62 198.95 L182.01 198.95 L182.41 198.95 L182.80 198.95 L183.20 198.95 L183.60 198.95 L183.99 198.95 L184.39 198.95 L184.78 198.95 L185.18 198.95 L185.58 198.95 L185.97 198.95 L186.37 198.95 L186.76 198.95 L187.16 198.95 L187.56 198.95 L187.95 198.95 L188.35 198.95 L188.74 198.95 L189.14 198.95 L189.54 198.95 L189.93 198.95 L190.33 198.95 L190.72 198.95 L191.12 198.95 L191.52 198.95 L191.91 198.95 L192.31 198.95 L192.70 198.95 L193.10 198.95 L193.50 198.95 L193.89 198.95 L194.29 198.95 L194.68 198.95 L195.08 198.95 L195.48 198.95 L195.87 198.95 L196.27 198.95 L196.66 198.95 L197.06 198.95 L197.46 198.95 L197.85 198.95 L198.25 198.95 L198.64 198.95 L199.04 198.95 L199.44 198.95 L199.83 198.95 L200.23 198.95 L200.62 198.95 L201.02 198.95 L201.42 198.95 L201.81 198.95 L202.21 198.95 L202.60 198.95 L203.00 198.95 L203.40 198.95 L203.79 198.95 L204.19 198.95 L204.58 198.95 L204.98 198.95 L205.38 198.95 L205.77 198.95 L206.17 198.95 L206.56 198.95 L206.96 198.95 L207.36 198.95 L207.75 198.95 L208.15 198.95 L208.54 198.95 L208.94 198.95 L209.34 198.95 L209.73 198.95 L210.13 198.95 L210.52 198.95 L210.92 198.95 L211.32 198.95 L211.71 198.95 L212.11 198.95 L212.50 198.95 L212.90 198.95 L213.30 198.95 L213.69 198.95 L214.09 198.95 L214.48 198.95 L214.88 198.95 L215.28 198.95 L215.67 198.95 L216.07 198.95 L216.46 198.95 L216.86 198.95 L217.26 198.95 L217.65 198.95 L218.05 198.95 L218.44 198.95 L218.84 198.95 L219.24 198.95 L219.63 198.95 L220.03 198.95 L220.42 198.95 L220.82 198.95 L221.22 198.95 L221.61 198.95 L222.01 198.95 L222.40 198.95 L222.80 198.95 L223.20 198.95 L223.59 198.95 L223.99 198.95 L224.38 198.95 L224.78 198.95 L225.18 198.95 L225.57 198.95 L225.97 198.95 L226.36 198.95 L226.76 198.95 L227.16 198.95 L227.55 198.95 L227.95 198.95 L228.34 198.95 L228.74 198.95 L229.14 198.95 L229.53 198.95 L229.93 198.95 L230.32 198.95 L230.72 198.95 L231.12 198.95 L231.51 198.95 L231.91 198.95 L232.30 198.95 L232.70 198.95 L233.10 198.95 L233.49 198.95 L233.89 198.95 L234.28 198.95 L234.68 198.95 L235.08 198.95 L235.47 198.95 L235.87 198.95 L236.26 198.95 L236.66 198.95 L237.06 198.95 L237.45 198.95 L237.85 198.95 L238.24 198.95 L238.64 198.95 L239.04 198.95 L239.43 198.95 L239.83 198.95 L240.22 198.95 L240.62 198.95 L241.02 198.95 L241.41 198.95 L241.81 198.95 L242.20 198.95 L242.60 198.95 L243.00 198.95 L243.39 198.95 L243.79 198.95 L244.18 198.95 L244.58 198.95 L244.98 198.95 L245.37 198.95 L245.77 198.95 L246.16 198.95 L246.56 198.95 L246.96 198.95 L247.35 198.95 L247.75 198.95 L248.14 198.95 L248.54 198.95 L248.94 198.95 L249.33 198.95 L249.73 198.95 L250.12 198.95 L250.52 198.95 L250.92 198.95 L251.31 198.95 L251.71 198.95 L252.10 198.95 L252.50 198.95 L252.90 198.95 L253.29 198.95 L253.69 198.95 L254.08 198.95 L254.48 198.95 L254.88 198.95 L255.27 198.95 L255.67 198.95 L256.06 198.95 L256.46 198.95 L256.86 198.95 L257.25 198.95 L257.65 198.95 L258.04 198.95 L258.44 198.95 L258.84 198.95 L259.23 198.95 L259.63 198.95 L260.02 198.95 L260.42 198.95 L260.82 198.95 L261.21 198.95 L261.61 198.95 L262.00 198.95 L262.40 198.95 L262.80 198.95 L263.19 198.95 L263.59 198.95 L263.98 198.95 L264.38 198.95 L264.78 198.95 L265.17 198.95 L265.57 198.95 L265.96 198.95 L266.36 198.95 L266.76 198.95 L267.15 198.95 L267.55 198.95 L267.94 198.95 L268.34 198.95 L268.74 198.95 L269.13 198.95 L269.53 198.95 L269.92 198.95 L270.32 198.95 L270.72 198.95 L271.11 198.95 L271.51 198.95 L271.90 198.95 L272.30 198.95 L272.70 198.95 L273.09 198.95 L273.49 198.95 L273.88 198.95 L274.28 198.95 L274.68 198.95 L275.07 198.95 L275.47 198.95 L275.86 198.95 L276.26 198.95 L276.66 198.95 L277.05 198.95 L277.45 198.95 L277.84 198.95 L278.24 198.95 L278.64 198.95 L279.03 198.95 L279.43 198.95 L279.82 198.95 L280.22 198.95 L280.62 198.95 L281.01 198.95 L281.41 198.95 L281.80 198.95 L282.20 198.95 L282.60 198.95 L282.99 198.95 L283.39 198.95 L283.78 198.95 L284.18 198.95 L284.58 198.95 L284.97 198.95 L285.37 198.95 L285.76 198.95 L286.16 198.95 L286.56 198.95 L286.95 198.95 L287.35 198.95 L287.74 198.95 L288.14 198.95 L288.54 198.95 L288.93 198.95 L289.33 198.95 L289.72 198.95 L290.12 198.95 L290.52 198.95 L290.91 198.95 L291.31 198.95 L291.70 198.95 L292.10 198.95 L292.50 198.95 L292.89 198.95 L293.29 198.95 L293.68 198.95 L294.08 198.95 L294.48 198.95 L294.87 198.95 L295.27 198.95 L295.66 198.95 L296.06 198.95 L296.46 198.95 L296.85 198.95 L297.25 198.95 L297.64 198.95 L298.04 198.95 L298.44 198.95 L298.83 198.95 L299.23 198.95 L299.62 198.95 L300.02 198.95 L300.42 198.95 L300.81 198.95 L301.21 198.95 L301.60 198.95 L302.00 198.95 L302.40 198.95 L302.79 198.95 L303.19 198.95 L303.58 198.95 L303.98 198.95 L304.38 198.95 L304.77 198.95 L305.17 198.95 L305.56 198.95 L305.96 198.95 L306.36 198.95 L306.75 198.95 L307.15 198.95 L307.54 198.95 L307.94 198.95 L308.34 198.95 L308.73 198.95 L309.13 198.95 L309.52 198.95 L309.92 198.95 L310.32 198.95 L310.71 198.95 L311.11 198.95 L311.50 198.95 L311.90 198.95 L312.30 198.95 L312.69 198.95 L313.09 198.95 L313.48 198.95 L313.88 198.95 L314.28 198.95 L314.67 198.95 L315.07 198.95 L315.46 198.95 L315.86 198.95 L316.26 198.95 L316.65 198.95 L317.05 198.95 L317.44 198.95 L317.84 198.95 L318.24 198.95 L318.63 198.95 L319.03 198.95 L319.42 198.95 L319.82 198.95 L320.22 198.95 L320.61 198.95 L321.01 198.95 L321.40 198.95 L321.80 198.95 L322.20 198.95 L322.59 198.95 L322.99 198.95 L323.38 198.95 L323.78 198.95 L324.18 198.95 L324.57 198.95 L324.97 198.95 L325.36 198.95 L325.76 198.95 L326.16 198.95 L326.55 198.95 L326.95 198.95 L327.34 198.95 L327.74 198.95 L328.14 198.95 L328.53 198.95 L328.93 198.95 L329.32 198.95 L329.72 198.95 L330.12 198.95 L330.51 198.95 L330.91 198.95 L331.30 198.95 L331.70 198.95 L332.10 198.95 L332.49 198.95 L332.89 198.95 L333.28 198.95 L333.68 198.95 L334.08 198.95 L334.47 198.95 L334.87 198.95 L335.26 198.95 L335.66 198.95 L336.06 198.95 L336.45 198.95 L336.85 198.95 L337.24 198.95 L337.64 198.95 L338.04 198.95 L338.43 198.95 L338.83 198.95 L339.22 198.95 L339.62 198.95 L340.02 198.95 L340.41 198.95 L340.81 198.95 L341.20 198.95 L341.60 198.95 L342.00 198.95 L342.39 198.95 L342.79 198.95 L343.18 198.95 L343.58 198.95 L343.98 198.95 L344.37 198.95 L344.77 198.95 L345.16 198.95 L345.56 198.95 L345.96 198.95 L346.35 198.95 L346.75 198.95 L347.14 198.95 L347.54 198.95 L347.94 198.95 L348.33 198.95 L348.73 198.95 L349.12 198.95 L349.52 198.95 L349.92 198.95 L350.31 198.95 L350.71 198.95 L351.10 198.95 L351.50 198.95 L351.90 198.95 L352.29 198.95 L352.69 198.95 L353.08 198.95 L353.48 198.95 L353.88 198.95 L354.27 198.95 L354.67 198.95 L355.06 198.95 L355.46 198.95 L355.86 198.95 L356.25 198.95 L356.65 198.95 L357.04 198.95 L357.44 198.95 L357.84 198.95 L358.23 198.95 L358.63 198.95 L359.02 198.95 L359.42 198.95 L359.82 198.95 L360.21 198.95 L360.61 198.95 L361.00 198.95 L361.40 198.95 L361.80 198.95 L362.19 198.95 L362.59 198.95 L362.98 198.95 L363.38 198.95 L363.78 198.95 L364.17 198.95 L364.57 198.95 L364.96 198.95 L365.36 198.95 L365.76 198.95 L366.15 198.95 L366.55 198.95 L366.94 198.95 L367.34 198.95 L367.74 198.95 L368.13 198.95 L368.53 198.95 L368.92 198.95 L369.32 198.95 L369.72 198.95 L370.11 198.95 L370.51 198.95 L370.90 198.95 L371.30 198.95 L371.70 198.95 L372.09 198.95 L372.49 198.95 L372.88 198.95 L373.28 198.95 L373.68 198.95 L374.07 198.95 L374.47 198.95 L374.86 198.95 L375.26 198.95 L375.66 198.95 L376.05 198.95 L376.45 198.95 L376.84 198.95 L377.24 198.95 L377.64 198.95 L378.03 198.95 L378.43 198.95 L378.82 198.95 L379.22 198.95 L379.62 198.95 L380.01 198.95 L380.41 198.95 L380.80 198.95 L381.20 198.95 L381.60 198.95 L381.99 198.95 L382.39 198.95 L382.78 198.95 L383.18 198.95 L383.58 198.95 L383.97 198.95 L384.37 198.95 L384.76 198.95 L385.16 198.95" fill="none" stroke="#000000" stroke-width="1.9" stroke-dasharray="1.7 1.4 1.7 3.1" stroke-linejoin="round"/>
</g>
<line x1="329.2" y1="14.00" x2="376.8" y2="14.00" stroke="#ff0000" stroke-width="2.1"/>
<text x="295.69" y="19.60" font-family="Liberation Sans, sans-serif" font-size="17" fill="#000" stroke="#000" stroke-width="0.3">t=0</text>
<line x1="329.2" y1="31.50" x2="376.8" y2="31.50" stroke="#00ff00" stroke-width="2.0" stroke-dasharray="3.3 1.4"/>
<text x="310.35" y="37.10" font-family="Liberation Sans, sans-serif" font-size="17" fill="#000" stroke="#000" stroke-width="0.3">2</text>
<line x1="329.2" y1="49.00" x2="376.8" y2="49.00" stroke="#0000ff" stroke-width="2.0" stroke-dasharray="2 2"/>
<text x="310.35" y="54.60" font-family="Liberation Sans, sans-serif" font-size="17" fill="#000" stroke="#000" stroke-width="0.3">4</text>
<line x1="329.2" y1="66.30" x2="376.8" y2="66.30" stroke="#ff00ff" stroke-width="2.2" stroke-dasharray="1.1 1.0"/>
<text x="310.35" y="71.90" font-family="Liberation Sans, sans-serif" font-size="17" fill="#000" stroke="#000" stroke-width="0.3">6</text>
<line x1="329.2" y1="83.60" x2="376.8" y2="83.60" stroke="#00ffff" stroke-width="2.0" stroke-dasharray="4.2 1.3 1.3 1.3"/>
<text x="310.35" y="89.20" font-family="Liberation Sans, sans-serif" font-size="17" fill="#000" stroke="#000" stroke-width="0.3">8</text>
<line x1="329.2" y1="100.90" x2="376.8" y2="100.90" stroke="#ff4500" stroke-width="2.0" stroke-dasharray="1.8 1.3 1.8 1.3 1.8 3.2"/>
<path d="M748 0L568 0L568 -1147Q500 -1085 385 -1023Q270 -961 165 -930L165 -1104Q330 -1175 455 -1276Q580 -1377 632 -1472L748 -1472Z" transform="translate(300.89 106.50) scale(0.00830)" fill="#000" stroke="#000" stroke-width="36.1"/><text x="310.35" y="106.50" font-family="Liberation Sans, sans-serif" font-size="17" fill="#000" stroke="#000" stroke-width="0.3">0</text>
<line x1="329.2" y1="118.70" x2="374.2" y2="118.70" stroke="#000000" stroke-width="1.9" stroke-dasharray="1.7 1.4 1.7 3.1"/>
<path d="M748 0L568 0L568 -1147Q500 -1085 385 -1023Q270 -961 165 -930L165 -1104Q330 -1175 455 -1276Q580 -1377 632 -1472L748 -1472Z" transform="translate(300.89 124.30) scale(0.00830)" fill="#000" stroke="#000" stroke-width="36.1"/><text x="310.35" y="124.30" font-family="Liberation Sans, sans-serif" font-size="17" fill="#000" stroke="#000" stroke-width="0.3">2</text>
<g stroke="#000" stroke-width="1.5" fill="none">
<line x1="71.05" y1="4.00" x2="390.45" y2="4.00"/>
<line x1="71.05" y1="198.50" x2="390.45" y2="198.50"/>
<line x1="76.25" y1="4.00" x2="76.25" y2="198.50"/>
<line x1="385.25" y1="4.00" x2="385.25" y2="198.50"/>
<line x1="84.20" y1="198.50" x2="84.20" y2="204.00"/>
<line x1="84.20" y1="4.00" x2="84.20" y2="-1.20"/>
<line x1="104.00" y1="198.50" x2="104.00" y2="201.60"/>
<line x1="104.00" y1="4.00" x2="104.00" y2="1.20"/>
<line x1="123.80" y1="198.50" x2="123.80" y2="204.00"/>
<line x1="123.80" y1="4.00" x2="123.80" y2="-1.20"/>
<line x1="143.60" y1="198.50" x2="143.60" y2="201.60"/>
<line x1="143.60" y1="4.00" x2="143.60" y2="1.20"/>
<line x1="163.40" y1="198.50" x2="163.40" y2="204.00"/>
<line x1="163.40" y1="4.00" x2="163.40" y2="-1.20"/>
<line x1="183.20" y1="198.50" x2="183.20" y2="201.60"/>
<line x1="183.20" y1="4.00" x2="183.20" y2="1.20"/>
<line x1="203.00" y1="198.50" x2="203.00" y2="204.00"/>
<line x1="203.00" y1="4.00" x2="203.00" y2="-1.20"/>
<line x1="222.80" y1="198.50" x2="222.80" y2="201.60"/>
<line x1="222.80" y1="4.00" x2="222.80" y2="1.20"/>
<line x1="242.60" y1="198.50" x2="242.60" y2="204.00"/>
<line x1="242.60" y1="4.00" x2="242.60" y2="-1.20"/>
<line x1="262.40" y1="198.50" x2="262.40" y2="201.60"/>
<line x1="262.40" y1="4.00" x2="262.40" y2="1.20"/>
<line x1="282.20" y1="198.50" x2="282.20" y2="204.00"/>
<line x1="282.20" y1="4.00" x2="282.20" y2="-1.20"/>
<line x1="302.00" y1="198.50" x2="302.00" y2="201.60"/>
<line x1="302.00" y1="4.00" x2="302.00" y2="1.20"/>
<line x1="321.80" y1="198.50" x2="321.80" y2="204.00"/>
<line x1="321.80" y1="4.00" x2="321.80" y2="-1.20"/>
<line x1="341.60" y1="198.50" x2="341.60" y2="201.60"/>
<line x1="341.60" y1="4.00" x2="341.60" y2="1.20"/>
<line x1="361.40" y1="198.50" x2="361.40" y2="204.00"/>
<line x1="361.40" y1="4.00" x2="361.40" y2="-1.20"/>
<line x1="381.20" y1="198.50" x2="381.20" y2="201.60"/>
<line x1="381.20" y1="4.00" x2="381.20" y2="1.20"/>
<line x1="76.25" y1="179.05" x2="73.45" y2="179.05"/>
<line x1="385.25" y1="179.05" x2="388.05" y2="179.05"/>
<line x1="76.25" y1="159.60" x2="71.05" y2="159.60"/>
<line x1="385.25" y1="159.60" x2="390.45" y2="159.60"/>
<line x1="76.25" y1="140.15" x2="73.45" y2="140.15"/>
<line x1="385.25" y1="140.15" x2="388.05" y2="140.15"/>
<line x1="76.25" y1="120.70" x2="71.05" y2="120.70"/>
<line x1="385.25" y1="120.70" x2="390.45" y2="120.70"/>
<line x1="76.25" y1="101.25" x2="73.45" y2="101.25"/>
<line x1="385.25" y1="101.25" x2="388.05" y2="101.25"/>
<line x1="76.25" y1="81.80" x2="71.05" y2="81.80"/>
<line x1="385.25" y1="81.80" x2="390.45" y2="81.80"/>
<line x1="76.25" y1="62.35" x2="73.45" y2="62.35"/>
<line x1="385.25" y1="62.35" x2="388.05" y2="62.35"/>
<line x1="76.25" y1="42.90" x2="71.05" y2="42.90"/>
<line x1="385.25" y1="42.90" x2="390.45" y2="42.90"/>
<line x1="76.25" y1="23.45" x2="73.45" y2="23.45"/>
<line x1="385.25" y1="23.45" x2="388.05" y2="23.45"/>
</g>
<path d="M748 0L568 0L568 -1147Q500 -1085 385 -1023Q270 -961 165 -930L165 -1104Q330 -1175 455 -1276Q580 -1377 632 -1472L748 -1472Z" transform="translate(49.85 10.10) scale(0.00830)" fill="#0000ff" stroke="#0000ff" stroke-width="36.1"/>
<text x="36.67" y="49.00" font-family="Liberation Sans, sans-serif" font-size="17" fill="#0000ff" stroke="#0000ff" stroke-width="0.3">0.8</text>
<text x="36.67" y="87.90" font-family="Liberation Sans, sans-serif" font-size="17" fill="#0000ff" stroke="#0000ff" stroke-width="0.3">0.6</text>
<text x="36.67" y="126.80" font-family="Liberation Sans, sans-serif" font-size="17" fill="#0000ff" stroke="#0000ff" stroke-width="0.3">0.4</text>
<text x="36.67" y="165.70" font-family="Liberation Sans, sans-serif" font-size="17" fill="#0000ff" stroke="#0000ff" stroke-width="0.3">0.2</text>
<text x="50.85" y="203.70" font-family="Liberation Sans, sans-serif" font-size="17" fill="#0000ff" stroke="#0000ff" stroke-width="0.3">0</text>
<text x="71.61" y="226.80" font-family="Liberation Sans, sans-serif" font-size="17" fill="#0000ff" stroke="#0000ff" stroke-width="0.3">-25</text>
<text x="111.21" y="226.80" font-family="Liberation Sans, sans-serif" font-size="17" fill="#0000ff" stroke="#0000ff" stroke-width="0.3">-20</text>
<text x="151.11" y="226.80" font-family="Liberation Sans, sans-serif" font-size="17" fill="#0000ff" stroke="#0000ff" stroke-width="0.3">-</text><path d="M748 0L568 0L568 -1147Q500 -1085 385 -1023Q270 -961 165 -930L165 -1104Q330 -1175 455 -1276Q580 -1377 632 -1472L748 -1472Z" transform="translate(156.78 226.80) scale(0.00830)" fill="#0000ff" stroke="#0000ff" stroke-width="36.1"/><text x="166.23" y="226.80" font-family="Liberation Sans, sans-serif" font-size="17" fill="#0000ff" stroke="#0000ff" stroke-width="0.3">5</text>
<text x="190.71" y="226.80" font-family="Liberation Sans, sans-serif" font-size="17" fill="#0000ff" stroke="#0000ff" stroke-width="0.3">-</text><path d="M748 0L568 0L568 -1147Q500 -1085 385 -1023Q270 -961 165 -930L165 -1104Q330 -1175 455 -1276Q580 -1377 632 -1472L748 -1472Z" transform="translate(196.38 226.80) scale(0.00830)" fill="#0000ff" stroke="#0000ff" stroke-width="36.1"/><text x="205.83" y="226.80" font-family="Liberation Sans, sans-serif" font-size="17" fill="#0000ff" stroke="#0000ff" stroke-width="0.3">0</text>
<text x="235.04" y="226.80" font-family="Liberation Sans, sans-serif" font-size="17" fill="#0000ff" stroke="#0000ff" stroke-width="0.3">-5</text>
<text x="279.67" y="226.80" font-family="Liberation Sans, sans-serif" font-size="17" fill="#0000ff" stroke="#0000ff" stroke-width="0.3">0</text>
<text x="319.37" y="226.80" font-family="Liberation Sans, sans-serif" font-size="17" fill="#0000ff" stroke="#0000ff" stroke-width="0.3">5</text>
<path d="M748 0L568 0L568 -1147Q500 -1085 385 -1023Q270 -961 165 -930L165 -1104Q330 -1175 455 -1276Q580 -1377 632 -1472L748 -1472Z" transform="translate(354.95 226.80) scale(0.00830)" fill="#0000ff" stroke="#0000ff" stroke-width="36.1"/><text x="364.40" y="226.80" font-family="Liberation Sans, sans-serif" font-size="17" fill="#0000ff" stroke="#0000ff" stroke-width="0.3">0</text>
<text x="230.4" y="252" font-family="Liberation Sans, sans-serif" font-size="17" text-anchor="middle" fill="#0000ff" stroke="#0000ff" stroke-width="0.3">x</text>
<g transform="translate(24.9,130.6) rotate(-90)"><text x="0" y="0" font-family="Liberation Sans, sans-serif" font-size="17" fill="#0000ff" stroke="#0000ff" stroke-width="0.3">|ψ(x,t)|<tspan font-size="13.6" dy="-10.3">2</tspan></text></g>
<text x="96.6" y="20" font-family="Liberation Sans, sans-serif" font-size="17" fill="#0000ff" stroke="#0000ff" stroke-width="0.3">(d)</text>
<text x="301.0" y="159.5" font-family="Liberation Sans, sans-serif" font-size="17.7" fill="#0000ff" stroke="#0000ff" stroke-width="0.3">G</text>
<path d="M748 0L568 0L568 -1147Q500 -1085 385 -1023Q270 -961 165 -930L165 -1104Q330 -1175 455 -1276Q580 -1377 632 -1472L748 -1472Z" transform="translate(315.40 164.50) scale(0.00684)" fill="#0000ff" stroke="#0000ff" stroke-width="43.9"/><text x="323.19" y="164.50" font-family="Liberation Sans, sans-serif" font-size="14" fill="#0000ff" stroke="#0000ff" stroke-width="0.3">D</text>
<text x="310.1" y="145.6" font-family="Liberation Sans, sans-serif" font-size="14" fill="#0000ff" stroke="#0000ff" stroke-width="0.3">(7/3)</text>
<text x="338.0" y="159.5" font-family="Liberation Sans, sans-serif" font-size="17.7" fill="#0000ff" stroke="#0000ff" stroke-width="0.3">= 3</text>
<text x="301.8" y="185" font-family="Liberation Sans, sans-serif" font-size="17.7" fill="#0000ff" stroke="#0000ff" stroke-width="0.3">v = 2</text>
</svg>
</body></html>
